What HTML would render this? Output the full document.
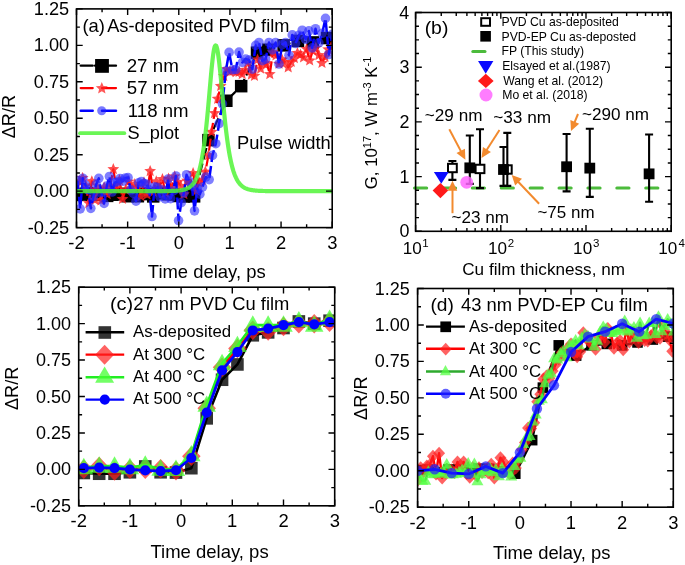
<!DOCTYPE html>
<html><head><meta charset="utf-8"><style>
html,body{margin:0;padding:0;background:#fff;overflow:hidden;}
svg{display:block;filter:blur(0.45px);}
</style></head><body>
<svg width="685" height="565" viewBox="0 0 685 565" font-family='"Liberation Sans", sans-serif'>
<rect width="685" height="565" fill="#fff"/>
<clipPath id="cA"><rect x="76.5" y="8.9" width="255.7" height="218.7"/></clipPath>
<clipPath id="cB"><rect x="415.6" y="12.5" width="255.6" height="218.8"/></clipPath>
<clipPath id="cC"><rect x="78.7" y="287.2" width="256" height="218.6"/></clipPath>
<clipPath id="cD"><rect x="417.6" y="288.5" width="255.7" height="218.7"/></clipPath>
<g clip-path="url(#cA)">
<path d="M76.5,194.96L81.61,194.59L86.73,193.31L91.84,194.92L96.96,194.77L102.07,194.49L107.18,195.9L112.3,194.75L117.41,194.34L122.53,193.77L127.64,196.22L132.75,195.48L137.87,196.23L142.98,193.71L148.1,194.12L153.21,196.4L158.32,193.11L163.44,193.17L168.55,194.26L173.67,194.39L178.78,195.99L183.89,196.49L189.01,194.7L194.12,196.34L208.44,140.12L226.34,100.75L241.17,86.17L257.02,52.64L268.27,49.72L283.62,45.35L297.94,40.98L312.77,42.43L327.09,38.06" stroke="#000" stroke-width="2.2" fill="none" stroke-linejoin="round" stroke-dasharray="12 4"/>
<rect x="70.25" y="188.71" width="12.5" height="12.5" fill="#000" />
<rect x="75.36" y="188.34" width="12.5" height="12.5" fill="#000" />
<rect x="80.48" y="187.06" width="12.5" height="12.5" fill="#000" />
<rect x="85.59" y="188.67" width="12.5" height="12.5" fill="#000" />
<rect x="90.71" y="188.52" width="12.5" height="12.5" fill="#000" />
<rect x="95.82" y="188.24" width="12.5" height="12.5" fill="#000" />
<rect x="100.93" y="189.65" width="12.5" height="12.5" fill="#000" />
<rect x="106.05" y="188.5" width="12.5" height="12.5" fill="#000" />
<rect x="111.16" y="188.09" width="12.5" height="12.5" fill="#000" />
<rect x="116.28" y="187.52" width="12.5" height="12.5" fill="#000" />
<rect x="121.39" y="189.97" width="12.5" height="12.5" fill="#000" />
<rect x="126.5" y="189.23" width="12.5" height="12.5" fill="#000" />
<rect x="131.62" y="189.98" width="12.5" height="12.5" fill="#000" />
<rect x="136.73" y="187.46" width="12.5" height="12.5" fill="#000" />
<rect x="141.85" y="187.87" width="12.5" height="12.5" fill="#000" />
<rect x="146.96" y="190.15" width="12.5" height="12.5" fill="#000" />
<rect x="152.07" y="186.86" width="12.5" height="12.5" fill="#000" />
<rect x="157.19" y="186.92" width="12.5" height="12.5" fill="#000" />
<rect x="162.3" y="188.01" width="12.5" height="12.5" fill="#000" />
<rect x="167.42" y="188.14" width="12.5" height="12.5" fill="#000" />
<rect x="172.53" y="189.74" width="12.5" height="12.5" fill="#000" />
<rect x="177.64" y="190.24" width="12.5" height="12.5" fill="#000" />
<rect x="182.76" y="188.45" width="12.5" height="12.5" fill="#000" />
<rect x="187.87" y="190.09" width="12.5" height="12.5" fill="#000" />
<rect x="202.19" y="133.87" width="12.5" height="12.5" fill="#000" />
<rect x="220.09" y="94.5" width="12.5" height="12.5" fill="#000" />
<rect x="234.92" y="79.92" width="12.5" height="12.5" fill="#000" />
<rect x="250.77" y="46.39" width="12.5" height="12.5" fill="#000" />
<rect x="262.02" y="43.47" width="12.5" height="12.5" fill="#000" />
<rect x="277.37" y="39.1" width="12.5" height="12.5" fill="#000" />
<rect x="291.69" y="34.73" width="12.5" height="12.5" fill="#000" />
<rect x="306.52" y="36.18" width="12.5" height="12.5" fill="#000" />
<rect x="320.84" y="31.81" width="12.5" height="12.5" fill="#000" />
<path d="M76.5,185.12L79.57,181.45L82.64,177.91L85.71,185.67L88.77,203.16L91.84,181.37L94.91,199.92L97.98,189L101.05,200.4L104.12,187.49L107.18,194.32L110.25,185.63L113.32,169.28L116.39,187.93L119.46,180.14L122.53,199.08L125.59,190.02L128.66,181.71L131.73,188.32L134.8,184.27L137.87,186.6L140.94,196.31L144,182.57L147.07,194.61L150.14,171.13L153.21,191.92L156.28,181.5L159.35,187.48L162.42,179.17L165.48,192.77L168.55,178.77L171.62,188.59L174.69,176.45L177.76,182.04L180.83,186.27L183.89,194.33L186.96,180.79L190.03,183.41L193.1,173.14L196.17,190.8L199.24,182.65L202.3,179.96L205.37,171.79L208.44,155.34L211.51,132.02L214.58,113.17L217.65,98.88L220.71,86.1L223.78,76.15L226.85,69.14L229.92,71.68L232.99,70.92L236.06,72.12L239.13,71.99L242.19,74.26L245.26,70.02L248.33,63.32L251.4,74.7L254.47,75.95L257.54,59.6L260.6,68.72L263.67,63.61L266.74,63.29L269.81,74.14L272.88,52.45L275.95,55.41L279.01,63.86L282.08,59.62L285.15,62.4L288.22,67.42L291.29,62.04L294.36,58.33L297.42,53.13L300.49,54.63L303.56,57.54L306.63,49.11L309.7,60.58L312.77,50.64L315.84,47.9L318.9,55.22L321.97,63.08L325.04,57.05L328.11,49.51L331.18,46.94" stroke="#ff0000" stroke-width="2.2" fill="none" stroke-linejoin="round" stroke-dasharray="12 4"/>
<path d="M76.5,178.92L78.14,182.86L82.4,183.2L79.15,185.98L80.14,190.13L76.5,187.91L72.86,190.13L73.85,185.98L70.6,183.2L74.86,182.86Z" fill="#ff2020" fill-opacity="0.8"/>
<path d="M79.57,175.25L81.21,179.19L85.46,179.53L82.22,182.31L83.21,186.46L79.57,184.24L75.92,186.46L76.91,182.31L73.67,179.53L77.93,179.19Z" fill="#ff2020" fill-opacity="0.8"/>
<path d="M82.64,171.71L84.28,175.65L88.53,175.99L85.29,178.77L86.28,182.93L82.64,180.7L78.99,182.93L79.98,178.77L76.74,175.99L81,175.65Z" fill="#ff2020" fill-opacity="0.8"/>
<path d="M85.71,179.47L87.35,183.41L91.6,183.75L88.36,186.53L89.35,190.69L85.71,188.46L82.06,190.69L83.05,186.53L79.81,183.75L84.07,183.41Z" fill="#ff2020" fill-opacity="0.8"/>
<path d="M88.77,196.96L90.41,200.9L94.67,201.25L91.43,204.02L92.42,208.18L88.77,205.95L85.13,208.18L86.12,204.02L82.88,201.25L87.13,200.9Z" fill="#ff2020" fill-opacity="0.8"/>
<path d="M91.84,175.17L93.48,179.11L97.74,179.45L94.5,182.23L95.49,186.38L91.84,184.16L88.2,186.38L89.19,182.23L85.95,179.45L90.2,179.11Z" fill="#ff2020" fill-opacity="0.8"/>
<path d="M94.91,193.72L96.55,197.67L100.81,198.01L97.56,200.79L98.55,204.94L94.91,202.71L91.27,204.94L92.26,200.79L89.01,198.01L93.27,197.67Z" fill="#ff2020" fill-opacity="0.8"/>
<path d="M97.98,182.8L99.62,186.75L103.88,187.09L100.63,189.87L101.62,194.02L97.98,191.79L94.33,194.02L95.33,189.87L92.08,187.09L96.34,186.75Z" fill="#ff2020" fill-opacity="0.8"/>
<path d="M101.05,194.2L102.69,198.14L106.94,198.48L103.7,201.26L104.69,205.41L101.05,203.19L97.4,205.41L98.39,201.26L95.15,198.48L99.41,198.14Z" fill="#ff2020" fill-opacity="0.8"/>
<path d="M104.12,181.29L105.76,185.23L110.01,185.57L106.77,188.35L107.76,192.5L104.12,190.28L100.47,192.5L101.46,188.35L98.22,185.57L102.48,185.23Z" fill="#ff2020" fill-opacity="0.8"/>
<path d="M107.18,188.12L108.82,192.06L113.08,192.4L109.84,195.18L110.83,199.33L107.18,197.11L103.54,199.33L104.53,195.18L101.29,192.4L105.54,192.06Z" fill="#ff2020" fill-opacity="0.8"/>
<path d="M110.25,179.43L111.89,183.38L116.15,183.72L112.91,186.5L113.9,190.65L110.25,188.42L106.61,190.65L107.6,186.5L104.36,183.72L108.61,183.38Z" fill="#ff2020" fill-opacity="0.8"/>
<path d="M113.32,163.08L114.96,167.02L119.22,167.36L115.97,170.14L116.97,174.3L113.32,172.07L109.68,174.3L110.67,170.14L107.42,167.36L111.68,167.02Z" fill="#ff2020" fill-opacity="0.8"/>
<path d="M116.39,181.73L118.03,185.67L122.29,186.01L119.04,188.79L120.03,192.95L116.39,190.72L112.74,192.95L113.74,188.79L110.49,186.01L114.75,185.67Z" fill="#ff2020" fill-opacity="0.8"/>
<path d="M119.46,173.94L121.1,177.88L125.35,178.22L122.11,181L123.1,185.15L119.46,182.93L115.81,185.15L116.8,181L113.56,178.22L117.82,177.88Z" fill="#ff2020" fill-opacity="0.8"/>
<path d="M122.53,192.88L124.17,196.82L128.42,197.17L125.18,199.94L126.17,204.1L122.53,201.87L118.88,204.1L119.87,199.94L116.63,197.17L120.89,196.82Z" fill="#ff2020" fill-opacity="0.8"/>
<path d="M125.59,183.82L127.23,187.77L131.49,188.11L128.25,190.89L129.24,195.04L125.59,192.81L121.95,195.04L122.94,190.89L119.7,188.11L123.95,187.77Z" fill="#ff2020" fill-opacity="0.8"/>
<path d="M128.66,175.51L130.3,179.45L134.56,179.79L131.32,182.57L132.31,186.73L128.66,184.5L125.02,186.73L126.01,182.57L122.77,179.79L127.02,179.45Z" fill="#ff2020" fill-opacity="0.8"/>
<path d="M131.73,182.12L133.37,186.06L137.63,186.4L134.38,189.18L135.38,193.33L131.73,191.11L128.09,193.33L129.08,189.18L125.83,186.4L130.09,186.06Z" fill="#ff2020" fill-opacity="0.8"/>
<path d="M134.8,178.07L136.44,182.01L140.7,182.35L137.45,185.13L138.44,189.28L134.8,187.06L131.16,189.28L132.15,185.13L128.9,182.35L133.16,182.01Z" fill="#ff2020" fill-opacity="0.8"/>
<path d="M137.87,180.4L139.51,184.34L143.76,184.69L140.52,187.46L141.51,191.62L137.87,189.39L134.22,191.62L135.21,187.46L131.97,184.69L136.23,184.34Z" fill="#ff2020" fill-opacity="0.8"/>
<path d="M140.94,190.11L142.58,194.05L146.83,194.39L143.59,197.17L144.58,201.32L140.94,199.1L137.29,201.32L138.28,197.17L135.04,194.39L139.3,194.05Z" fill="#ff2020" fill-opacity="0.8"/>
<path d="M144,176.37L145.64,180.32L149.9,180.66L146.66,183.44L147.65,187.59L144,185.36L140.36,187.59L141.35,183.44L138.11,180.66L142.36,180.32Z" fill="#ff2020" fill-opacity="0.8"/>
<path d="M147.07,188.41L148.71,192.35L152.97,192.69L149.73,195.47L150.72,199.62L147.07,197.4L143.43,199.62L144.42,195.47L141.18,192.69L145.43,192.35Z" fill="#ff2020" fill-opacity="0.8"/>
<path d="M150.14,164.93L151.78,168.87L156.04,169.22L152.8,171.99L153.79,176.15L150.14,173.92L146.5,176.15L147.49,171.99L144.25,169.22L148.5,168.87Z" fill="#ff2020" fill-opacity="0.8"/>
<path d="M153.21,185.72L154.85,189.67L159.11,190.01L155.86,192.79L156.85,196.94L153.21,194.71L149.57,196.94L150.56,192.79L147.31,190.01L151.57,189.67Z" fill="#ff2020" fill-opacity="0.8"/>
<path d="M156.28,175.3L157.92,179.25L162.17,179.59L158.93,182.37L159.92,186.52L156.28,184.29L152.63,186.52L153.62,182.37L150.38,179.59L154.64,179.25Z" fill="#ff2020" fill-opacity="0.8"/>
<path d="M159.35,181.28L160.99,185.23L165.24,185.57L162,188.35L162.99,192.5L159.35,190.27L155.7,192.5L156.69,188.35L153.45,185.57L157.71,185.23Z" fill="#ff2020" fill-opacity="0.8"/>
<path d="M162.42,172.97L164.06,176.92L168.31,177.26L165.07,180.04L166.06,184.19L162.42,181.96L158.77,184.19L159.76,180.04L156.52,177.26L160.78,176.92Z" fill="#ff2020" fill-opacity="0.8"/>
<path d="M165.48,186.57L167.12,190.52L171.38,190.86L168.14,193.63L169.13,197.79L165.48,195.56L161.84,197.79L162.83,193.63L159.59,190.86L163.84,190.52Z" fill="#ff2020" fill-opacity="0.8"/>
<path d="M168.55,172.57L170.19,176.51L174.45,176.85L171.21,179.63L172.2,183.78L168.55,181.56L164.91,183.78L165.9,179.63L162.66,176.85L166.91,176.51Z" fill="#ff2020" fill-opacity="0.8"/>
<path d="M171.62,182.39L173.26,186.33L177.52,186.67L174.27,189.45L175.26,193.6L171.62,191.38L167.98,193.6L168.97,189.45L165.72,186.67L169.98,186.33Z" fill="#ff2020" fill-opacity="0.8"/>
<path d="M174.69,170.25L176.33,174.2L180.59,174.54L177.34,177.32L178.33,181.47L174.69,179.24L171.04,181.47L172.04,177.32L168.79,174.54L173.05,174.2Z" fill="#ff2020" fill-opacity="0.8"/>
<path d="M177.76,175.84L179.4,179.79L183.65,180.13L180.41,182.91L181.4,187.06L177.76,184.83L174.11,187.06L175.1,182.91L171.86,180.13L176.12,179.79Z" fill="#ff2020" fill-opacity="0.8"/>
<path d="M180.83,180.07L182.47,184.01L186.72,184.35L183.48,187.13L184.47,191.28L180.83,189.06L177.18,191.28L178.17,187.13L174.93,184.35L179.19,184.01Z" fill="#ff2020" fill-opacity="0.8"/>
<path d="M183.89,188.13L185.53,192.07L189.79,192.42L186.55,195.19L187.54,199.35L183.89,197.12L180.25,199.35L181.24,195.19L178,192.42L182.25,192.07Z" fill="#ff2020" fill-opacity="0.8"/>
<path d="M186.96,174.59L188.6,178.53L192.86,178.87L189.62,181.65L190.61,185.8L186.96,183.58L183.32,185.8L184.31,181.65L181.07,178.87L185.32,178.53Z" fill="#ff2020" fill-opacity="0.8"/>
<path d="M190.03,177.21L191.67,181.15L195.93,181.49L192.68,184.27L193.68,188.43L190.03,186.2L186.39,188.43L187.38,184.27L184.13,181.49L188.39,181.15Z" fill="#ff2020" fill-opacity="0.8"/>
<path d="M193.1,166.94L194.74,170.88L199,171.23L195.75,174L196.74,178.16L193.1,175.93L189.45,178.16L190.45,174L187.2,171.23L191.46,170.88Z" fill="#ff2020" fill-opacity="0.8"/>
<path d="M196.17,184.6L197.81,188.55L202.06,188.89L198.82,191.67L199.81,195.82L196.17,193.59L192.52,195.82L193.51,191.67L190.27,188.89L194.53,188.55Z" fill="#ff2020" fill-opacity="0.8"/>
<path d="M199.24,176.45L200.88,180.39L205.13,180.74L201.89,183.51L202.88,187.67L199.24,185.44L195.59,187.67L196.58,183.51L193.34,180.74L197.6,180.39Z" fill="#ff2020" fill-opacity="0.8"/>
<path d="M202.3,173.76L203.94,177.7L208.2,178.05L204.96,180.82L205.95,184.98L202.3,182.75L198.66,184.98L199.65,180.82L196.41,178.05L200.66,177.7Z" fill="#ff2020" fill-opacity="0.8"/>
<path d="M205.37,165.59L207.01,169.54L211.27,169.88L208.03,172.65L209.02,176.81L205.37,174.58L201.73,176.81L202.72,172.65L199.48,169.88L203.73,169.54Z" fill="#ff2020" fill-opacity="0.8"/>
<path d="M208.44,149.14L210.08,153.08L214.34,153.42L211.09,156.2L212.09,160.35L208.44,158.13L204.8,160.35L205.79,156.2L202.54,153.42L206.8,153.08Z" fill="#ff2020" fill-opacity="0.8"/>
<path d="M211.51,125.82L213.15,129.77L217.41,130.11L214.16,132.89L215.15,137.04L211.51,134.81L207.87,137.04L208.86,132.89L205.61,130.11L209.87,129.77Z" fill="#ff2020" fill-opacity="0.8"/>
<path d="M214.58,106.97L216.22,110.91L220.47,111.25L217.23,114.03L218.22,118.18L214.58,115.96L210.93,118.18L211.92,114.03L208.68,111.25L212.94,110.91Z" fill="#ff2020" fill-opacity="0.8"/>
<path d="M217.65,92.68L219.29,96.62L223.54,96.97L220.3,99.74L221.29,103.9L217.65,101.67L214,103.9L214.99,99.74L211.75,96.97L216.01,96.62Z" fill="#ff2020" fill-opacity="0.8"/>
<path d="M220.71,79.9L222.35,83.84L226.61,84.18L223.37,86.96L224.36,91.11L220.71,88.89L217.07,91.11L218.06,86.96L214.82,84.18L219.07,83.84Z" fill="#ff2020" fill-opacity="0.8"/>
<path d="M223.78,69.95L225.42,73.89L229.68,74.23L226.44,77.01L227.43,81.16L223.78,78.94L220.14,81.16L221.13,77.01L217.89,74.23L222.14,73.89Z" fill="#ff2020" fill-opacity="0.8"/>
<path d="M226.85,62.94L228.49,66.88L232.75,67.22L229.51,70L230.5,74.16L226.85,71.93L223.21,74.16L224.2,70L220.96,67.22L225.21,66.88Z" fill="#ff2020" fill-opacity="0.8"/>
<path d="M229.92,65.48L231.56,69.42L235.82,69.76L232.57,72.54L233.56,76.69L229.92,74.47L226.28,76.69L227.27,72.54L224.02,69.76L228.28,69.42Z" fill="#ff2020" fill-opacity="0.8"/>
<path d="M232.99,64.72L234.63,68.66L238.88,69L235.64,71.78L236.63,75.93L232.99,73.71L229.34,75.93L230.33,71.78L227.09,69L231.35,68.66Z" fill="#ff2020" fill-opacity="0.8"/>
<path d="M236.06,65.92L237.7,69.86L241.95,70.2L238.71,72.98L239.7,77.13L236.06,74.91L232.41,77.13L233.4,72.98L230.16,70.2L234.42,69.86Z" fill="#ff2020" fill-opacity="0.8"/>
<path d="M239.13,65.79L240.77,69.73L245.02,70.07L241.78,72.85L242.77,77.01L239.13,74.78L235.48,77.01L236.47,72.85L233.23,70.07L237.49,69.73Z" fill="#ff2020" fill-opacity="0.8"/>
<path d="M242.19,68.06L243.83,72.01L248.09,72.35L244.85,75.13L245.84,79.28L242.19,77.05L238.55,79.28L239.54,75.13L236.3,72.35L240.55,72.01Z" fill="#ff2020" fill-opacity="0.8"/>
<path d="M245.26,63.82L246.9,67.76L251.16,68.1L247.92,70.88L248.91,75.04L245.26,72.81L241.62,75.04L242.61,70.88L239.37,68.1L243.62,67.76Z" fill="#ff2020" fill-opacity="0.8"/>
<path d="M248.33,57.12L249.97,61.06L254.23,61.4L250.98,64.18L251.97,68.33L248.33,66.11L244.69,68.33L245.68,64.18L242.43,61.4L246.69,61.06Z" fill="#ff2020" fill-opacity="0.8"/>
<path d="M251.4,68.5L253.04,72.44L257.3,72.78L254.05,75.56L255.04,79.71L251.4,77.49L247.75,79.71L248.75,75.56L245.5,72.78L249.76,72.44Z" fill="#ff2020" fill-opacity="0.8"/>
<path d="M254.47,69.75L256.11,73.7L260.36,74.04L257.12,76.82L258.11,80.97L254.47,78.74L250.82,80.97L251.81,76.82L248.57,74.04L252.83,73.7Z" fill="#ff2020" fill-opacity="0.8"/>
<path d="M257.54,53.4L259.18,57.34L263.43,57.68L260.19,60.46L261.18,64.61L257.54,62.39L253.89,64.61L254.88,60.46L251.64,57.68L255.9,57.34Z" fill="#ff2020" fill-opacity="0.8"/>
<path d="M260.6,62.52L262.24,66.46L266.5,66.8L263.26,69.58L264.25,73.74L260.6,71.51L256.96,73.74L257.95,69.58L254.71,66.8L258.96,66.46Z" fill="#ff2020" fill-opacity="0.8"/>
<path d="M263.67,57.41L265.31,61.35L269.57,61.69L266.33,64.47L267.32,68.62L263.67,66.4L260.03,68.62L261.02,64.47L257.78,61.69L262.03,61.35Z" fill="#ff2020" fill-opacity="0.8"/>
<path d="M266.74,57.09L268.38,61.04L272.64,61.38L269.39,64.16L270.39,68.31L266.74,66.08L263.1,68.31L264.09,64.16L260.84,61.38L265.1,61.04Z" fill="#ff2020" fill-opacity="0.8"/>
<path d="M269.81,67.94L271.45,71.88L275.71,72.22L272.46,75L273.45,79.15L269.81,76.93L266.16,79.15L267.16,75L263.91,72.22L268.17,71.88Z" fill="#ff2020" fill-opacity="0.8"/>
<path d="M272.88,46.25L274.52,50.19L278.77,50.53L275.53,53.31L276.52,57.46L272.88,55.24L269.23,57.46L270.22,53.31L266.98,50.53L271.24,50.19Z" fill="#ff2020" fill-opacity="0.8"/>
<path d="M275.95,49.21L277.59,53.15L281.84,53.49L278.6,56.27L279.59,60.42L275.95,58.2L272.3,60.42L273.29,56.27L270.05,53.49L274.31,53.15Z" fill="#ff2020" fill-opacity="0.8"/>
<path d="M279.01,57.66L280.65,61.6L284.91,61.94L281.67,64.72L282.66,68.87L279.01,66.65L275.37,68.87L276.36,64.72L273.12,61.94L277.37,61.6Z" fill="#ff2020" fill-opacity="0.8"/>
<path d="M282.08,53.42L283.72,57.37L287.98,57.71L284.74,60.49L285.73,64.64L282.08,62.41L278.44,64.64L279.43,60.49L276.19,57.71L280.44,57.37Z" fill="#ff2020" fill-opacity="0.8"/>
<path d="M285.15,56.2L286.79,60.14L291.05,60.48L287.8,63.26L288.8,67.41L285.15,65.19L281.51,67.41L282.5,63.26L279.25,60.48L283.51,60.14Z" fill="#ff2020" fill-opacity="0.8"/>
<path d="M288.22,61.22L289.86,65.16L294.12,65.5L290.87,68.28L291.86,72.44L288.22,70.21L284.58,72.44L285.57,68.28L282.32,65.5L286.58,65.16Z" fill="#ff2020" fill-opacity="0.8"/>
<path d="M291.29,55.84L292.93,59.78L297.18,60.13L293.94,62.9L294.93,67.06L291.29,64.83L287.64,67.06L288.63,62.9L285.39,60.13L289.65,59.78Z" fill="#ff2020" fill-opacity="0.8"/>
<path d="M294.36,52.13L296,56.07L300.25,56.42L297.01,59.19L298,63.35L294.36,61.12L290.71,63.35L291.7,59.19L288.46,56.42L292.72,56.07Z" fill="#ff2020" fill-opacity="0.8"/>
<path d="M297.42,46.93L299.06,50.87L303.32,51.22L300.08,53.99L301.07,58.15L297.42,55.92L293.78,58.15L294.77,53.99L291.53,51.22L295.78,50.87Z" fill="#ff2020" fill-opacity="0.8"/>
<path d="M300.49,48.43L302.13,52.37L306.39,52.71L303.15,55.49L304.14,59.64L300.49,57.42L296.85,59.64L297.84,55.49L294.6,52.71L298.85,52.37Z" fill="#ff2020" fill-opacity="0.8"/>
<path d="M303.56,51.34L305.2,55.28L309.46,55.63L306.22,58.4L307.21,62.56L303.56,60.33L299.92,62.56L300.91,58.4L297.67,55.63L301.92,55.28Z" fill="#ff2020" fill-opacity="0.8"/>
<path d="M306.63,42.91L308.27,46.86L312.53,47.2L309.28,49.97L310.27,54.13L306.63,51.9L302.99,54.13L303.98,49.97L300.73,47.2L304.99,46.86Z" fill="#ff2020" fill-opacity="0.8"/>
<path d="M309.7,54.38L311.34,58.32L315.59,58.66L312.35,61.44L313.34,65.59L309.7,63.37L306.05,65.59L307.04,61.44L303.8,58.66L308.06,58.32Z" fill="#ff2020" fill-opacity="0.8"/>
<path d="M312.77,44.44L314.41,48.38L318.66,48.72L315.42,51.5L316.41,55.66L312.77,53.43L309.12,55.66L310.11,51.5L306.87,48.72L311.13,48.38Z" fill="#ff2020" fill-opacity="0.8"/>
<path d="M315.84,41.7L317.48,45.65L321.73,45.99L318.49,48.77L319.48,52.92L315.84,50.69L312.19,52.92L313.18,48.77L309.94,45.99L314.2,45.65Z" fill="#ff2020" fill-opacity="0.8"/>
<path d="M318.9,49.02L320.54,52.96L324.8,53.3L321.56,56.08L322.55,60.23L318.9,58.01L315.26,60.23L316.25,56.08L313.01,53.3L317.26,52.96Z" fill="#ff2020" fill-opacity="0.8"/>
<path d="M321.97,56.88L323.61,60.83L327.87,61.17L324.63,63.95L325.62,68.1L321.97,65.87L318.33,68.1L319.32,63.95L316.08,61.17L320.33,60.83Z" fill="#ff2020" fill-opacity="0.8"/>
<path d="M325.04,50.85L326.68,54.79L330.94,55.13L327.69,57.91L328.68,62.07L325.04,59.84L321.4,62.07L322.39,57.91L319.14,55.13L323.4,54.79Z" fill="#ff2020" fill-opacity="0.8"/>
<path d="M328.11,43.31L329.75,47.25L334.01,47.59L330.76,50.37L331.75,54.52L328.11,52.3L324.46,54.52L325.46,50.37L322.21,47.59L326.47,47.25Z" fill="#ff2020" fill-opacity="0.8"/>
<path d="M331.18,40.74L332.82,44.68L337.07,45.02L333.83,47.8L334.82,51.95L331.18,49.73L327.53,51.95L328.52,47.8L325.28,45.02L329.54,44.68Z" fill="#ff2020" fill-opacity="0.8"/>
<path d="M77.52,180.62L80.18,208.85L82.84,178.19L85.5,185.07L88.16,189.81L90.82,208.36L93.48,196.53L96.14,184.51L98.8,178.3L101.46,192.8L104.12,203.43L106.77,186.11L109.43,176.49L112.09,191.99L114.75,182.71L117.41,181.73L120.07,178.49L122.73,181.28L125.39,177.98L128.05,177.54L130.71,189.92L133.37,193.38L136.03,201.19L138.69,182.8L141.35,181.51L144,183.52L146.66,183.99L149.32,190.11L151.98,216.52L154.64,186.87L157.3,187.22L159.96,196.77L162.62,189.96L165.28,198.96L167.94,179.1L170.6,198.62L173.26,190.96L175.92,175.99L178.58,220.54L181.23,202.63L183.89,193.12L186.55,174.7L189.21,181.36L191.87,185.98L194.53,210.87L197.19,188.59L199.85,194.2L202.51,187.05L205.83,177L209.16,179.58L212.48,155.41L215.81,143.72L219.13,123.55L222.45,103.91L225.78,71.15L229.1,52.39L232.43,69.81L235.75,69.49L239.07,52.1L242.4,62.39L245.72,58.99L249.05,60.13L252.37,69.21L255.69,45.42L259.02,42.43L262.34,60.73L265.67,59.12L268.99,42.43L272.32,49.93L275.64,42.43L278.96,64L282.29,44.6L285.61,42.43L288.94,55.26L292.26,34.9L295.58,43.57L298.91,35.21L302.23,30.25L305.56,39.4L308.88,30.92L312.2,47.86L315.53,28.69L318.85,42.82L322.18,33.31L325.5,18.41L328.82,54.5L332.15,34.35" stroke="#0000ff" stroke-width="2.5" fill="none" stroke-linejoin="round" stroke-dasharray="12 4"/>
<circle cx="77.52" cy="180.62" r="4.8" fill="#2a2aff" fill-opacity="0.6"/>
<circle cx="80.18" cy="208.85" r="4.8" fill="#2a2aff" fill-opacity="0.6"/>
<circle cx="82.84" cy="178.19" r="4.8" fill="#2a2aff" fill-opacity="0.6"/>
<circle cx="85.5" cy="185.07" r="4.8" fill="#2a2aff" fill-opacity="0.6"/>
<circle cx="88.16" cy="189.81" r="4.8" fill="#2a2aff" fill-opacity="0.6"/>
<circle cx="90.82" cy="208.36" r="4.8" fill="#2a2aff" fill-opacity="0.6"/>
<circle cx="93.48" cy="196.53" r="4.8" fill="#2a2aff" fill-opacity="0.6"/>
<circle cx="96.14" cy="184.51" r="4.8" fill="#2a2aff" fill-opacity="0.6"/>
<circle cx="98.8" cy="178.3" r="4.8" fill="#2a2aff" fill-opacity="0.6"/>
<circle cx="101.46" cy="192.8" r="4.8" fill="#2a2aff" fill-opacity="0.6"/>
<circle cx="104.12" cy="203.43" r="4.8" fill="#2a2aff" fill-opacity="0.6"/>
<circle cx="106.77" cy="186.11" r="4.8" fill="#2a2aff" fill-opacity="0.6"/>
<circle cx="109.43" cy="176.49" r="4.8" fill="#2a2aff" fill-opacity="0.6"/>
<circle cx="112.09" cy="191.99" r="4.8" fill="#2a2aff" fill-opacity="0.6"/>
<circle cx="114.75" cy="182.71" r="4.8" fill="#2a2aff" fill-opacity="0.6"/>
<circle cx="117.41" cy="181.73" r="4.8" fill="#2a2aff" fill-opacity="0.6"/>
<circle cx="120.07" cy="178.49" r="4.8" fill="#2a2aff" fill-opacity="0.6"/>
<circle cx="122.73" cy="181.28" r="4.8" fill="#2a2aff" fill-opacity="0.6"/>
<circle cx="125.39" cy="177.98" r="4.8" fill="#2a2aff" fill-opacity="0.6"/>
<circle cx="128.05" cy="177.54" r="4.8" fill="#2a2aff" fill-opacity="0.6"/>
<circle cx="130.71" cy="189.92" r="4.8" fill="#2a2aff" fill-opacity="0.6"/>
<circle cx="133.37" cy="193.38" r="4.8" fill="#2a2aff" fill-opacity="0.6"/>
<circle cx="136.03" cy="201.19" r="4.8" fill="#2a2aff" fill-opacity="0.6"/>
<circle cx="138.69" cy="182.8" r="4.8" fill="#2a2aff" fill-opacity="0.6"/>
<circle cx="141.35" cy="181.51" r="4.8" fill="#2a2aff" fill-opacity="0.6"/>
<circle cx="144" cy="183.52" r="4.8" fill="#2a2aff" fill-opacity="0.6"/>
<circle cx="146.66" cy="183.99" r="4.8" fill="#2a2aff" fill-opacity="0.6"/>
<circle cx="149.32" cy="190.11" r="4.8" fill="#2a2aff" fill-opacity="0.6"/>
<circle cx="151.98" cy="216.52" r="4.8" fill="#2a2aff" fill-opacity="0.6"/>
<circle cx="154.64" cy="186.87" r="4.8" fill="#2a2aff" fill-opacity="0.6"/>
<circle cx="157.3" cy="187.22" r="4.8" fill="#2a2aff" fill-opacity="0.6"/>
<circle cx="159.96" cy="196.77" r="4.8" fill="#2a2aff" fill-opacity="0.6"/>
<circle cx="162.62" cy="189.96" r="4.8" fill="#2a2aff" fill-opacity="0.6"/>
<circle cx="165.28" cy="198.96" r="4.8" fill="#2a2aff" fill-opacity="0.6"/>
<circle cx="167.94" cy="179.1" r="4.8" fill="#2a2aff" fill-opacity="0.6"/>
<circle cx="170.6" cy="198.62" r="4.8" fill="#2a2aff" fill-opacity="0.6"/>
<circle cx="173.26" cy="190.96" r="4.8" fill="#2a2aff" fill-opacity="0.6"/>
<circle cx="175.92" cy="175.99" r="4.8" fill="#2a2aff" fill-opacity="0.6"/>
<circle cx="178.58" cy="220.54" r="4.8" fill="#2a2aff" fill-opacity="0.6"/>
<circle cx="181.23" cy="202.63" r="4.8" fill="#2a2aff" fill-opacity="0.6"/>
<circle cx="183.89" cy="193.12" r="4.8" fill="#2a2aff" fill-opacity="0.6"/>
<circle cx="186.55" cy="174.7" r="4.8" fill="#2a2aff" fill-opacity="0.6"/>
<circle cx="189.21" cy="181.36" r="4.8" fill="#2a2aff" fill-opacity="0.6"/>
<circle cx="191.87" cy="185.98" r="4.8" fill="#2a2aff" fill-opacity="0.6"/>
<circle cx="194.53" cy="210.87" r="4.8" fill="#2a2aff" fill-opacity="0.6"/>
<circle cx="197.19" cy="188.59" r="4.8" fill="#2a2aff" fill-opacity="0.6"/>
<circle cx="199.85" cy="194.2" r="4.8" fill="#2a2aff" fill-opacity="0.6"/>
<circle cx="202.51" cy="187.05" r="4.8" fill="#2a2aff" fill-opacity="0.6"/>
<circle cx="205.83" cy="177" r="4.8" fill="#2a2aff" fill-opacity="0.6"/>
<circle cx="209.16" cy="179.58" r="4.8" fill="#2a2aff" fill-opacity="0.6"/>
<circle cx="212.48" cy="155.41" r="4.8" fill="#2a2aff" fill-opacity="0.6"/>
<circle cx="215.81" cy="143.72" r="4.8" fill="#2a2aff" fill-opacity="0.6"/>
<circle cx="219.13" cy="123.55" r="4.8" fill="#2a2aff" fill-opacity="0.6"/>
<circle cx="222.45" cy="103.91" r="4.8" fill="#2a2aff" fill-opacity="0.6"/>
<circle cx="225.78" cy="71.15" r="4.8" fill="#2a2aff" fill-opacity="0.6"/>
<circle cx="229.1" cy="52.39" r="4.8" fill="#2a2aff" fill-opacity="0.6"/>
<circle cx="232.43" cy="69.81" r="4.8" fill="#2a2aff" fill-opacity="0.6"/>
<circle cx="235.75" cy="69.49" r="4.8" fill="#2a2aff" fill-opacity="0.6"/>
<circle cx="239.07" cy="52.1" r="4.8" fill="#2a2aff" fill-opacity="0.6"/>
<circle cx="242.4" cy="62.39" r="4.8" fill="#2a2aff" fill-opacity="0.6"/>
<circle cx="245.72" cy="58.99" r="4.8" fill="#2a2aff" fill-opacity="0.6"/>
<circle cx="249.05" cy="60.13" r="4.8" fill="#2a2aff" fill-opacity="0.6"/>
<circle cx="252.37" cy="69.21" r="4.8" fill="#2a2aff" fill-opacity="0.6"/>
<circle cx="255.69" cy="45.42" r="4.8" fill="#2a2aff" fill-opacity="0.6"/>
<circle cx="259.02" cy="42.43" r="4.8" fill="#2a2aff" fill-opacity="0.6"/>
<circle cx="262.34" cy="60.73" r="4.8" fill="#2a2aff" fill-opacity="0.6"/>
<circle cx="265.67" cy="59.12" r="4.8" fill="#2a2aff" fill-opacity="0.6"/>
<circle cx="268.99" cy="42.43" r="4.8" fill="#2a2aff" fill-opacity="0.6"/>
<circle cx="272.32" cy="49.93" r="4.8" fill="#2a2aff" fill-opacity="0.6"/>
<circle cx="275.64" cy="42.43" r="4.8" fill="#2a2aff" fill-opacity="0.6"/>
<circle cx="278.96" cy="64" r="4.8" fill="#2a2aff" fill-opacity="0.6"/>
<circle cx="282.29" cy="44.6" r="4.8" fill="#2a2aff" fill-opacity="0.6"/>
<circle cx="285.61" cy="42.43" r="4.8" fill="#2a2aff" fill-opacity="0.6"/>
<circle cx="288.94" cy="55.26" r="4.8" fill="#2a2aff" fill-opacity="0.6"/>
<circle cx="292.26" cy="34.9" r="4.8" fill="#2a2aff" fill-opacity="0.6"/>
<circle cx="295.58" cy="43.57" r="4.8" fill="#2a2aff" fill-opacity="0.6"/>
<circle cx="298.91" cy="35.21" r="4.8" fill="#2a2aff" fill-opacity="0.6"/>
<circle cx="302.23" cy="30.25" r="4.8" fill="#2a2aff" fill-opacity="0.6"/>
<circle cx="305.56" cy="39.4" r="4.8" fill="#2a2aff" fill-opacity="0.6"/>
<circle cx="308.88" cy="30.92" r="4.8" fill="#2a2aff" fill-opacity="0.6"/>
<circle cx="312.2" cy="47.86" r="4.8" fill="#2a2aff" fill-opacity="0.6"/>
<circle cx="315.53" cy="28.69" r="4.8" fill="#2a2aff" fill-opacity="0.6"/>
<circle cx="318.85" cy="42.82" r="4.8" fill="#2a2aff" fill-opacity="0.6"/>
<circle cx="322.18" cy="33.31" r="4.8" fill="#2a2aff" fill-opacity="0.6"/>
<circle cx="325.5" cy="18.41" r="4.8" fill="#2a2aff" fill-opacity="0.6"/>
<circle cx="328.82" cy="54.5" r="4.8" fill="#2a2aff" fill-opacity="0.6"/>
<circle cx="332.15" cy="34.35" r="4.8" fill="#2a2aff" fill-opacity="0.6"/>
<path d="M76.5,191.15L77.01,191.15L77.52,191.15L78.03,191.15L78.55,191.15L79.06,191.15L79.57,191.15L80.08,191.15L80.59,191.15L81.1,191.15L81.61,191.15L82.13,191.15L82.64,191.15L83.15,191.15L83.66,191.15L84.17,191.15L84.68,191.15L85.19,191.15L85.71,191.15L86.22,191.15L86.73,191.15L87.24,191.15L87.75,191.15L88.26,191.15L88.77,191.15L89.29,191.15L89.8,191.15L90.31,191.15L90.82,191.15L91.33,191.15L91.84,191.15L92.35,191.15L92.86,191.15L93.38,191.15L93.89,191.15L94.4,191.15L94.91,191.15L95.42,191.15L95.93,191.15L96.44,191.15L96.96,191.15L97.47,191.15L97.98,191.15L98.49,191.15L99,191.15L99.51,191.15L100.02,191.15L100.54,191.15L101.05,191.15L101.56,191.15L102.07,191.15L102.58,191.15L103.09,191.15L103.6,191.15L104.12,191.15L104.63,191.15L105.14,191.15L105.65,191.15L106.16,191.15L106.67,191.15L107.18,191.15L107.7,191.15L108.21,191.15L108.72,191.15L109.23,191.15L109.74,191.15L110.25,191.15L110.76,191.15L111.28,191.15L111.79,191.15L112.3,191.15L112.81,191.15L113.32,191.15L113.83,191.15L114.34,191.15L114.86,191.15L115.37,191.15L115.88,191.15L116.39,191.15L116.9,191.15L117.41,191.15L117.92,191.15L118.43,191.15L118.95,191.15L119.46,191.15L119.97,191.15L120.48,191.15L120.99,191.15L121.5,191.15L122.01,191.15L122.53,191.15L123.04,191.15L123.55,191.15L124.06,191.15L124.57,191.15L125.08,191.15L125.59,191.15L126.11,191.15L126.62,191.15L127.13,191.15L127.64,191.15L128.15,191.15L128.66,191.15L129.17,191.15L129.69,191.15L130.2,191.15L130.71,191.15L131.22,191.15L131.73,191.15L132.24,191.15L132.75,191.15L133.27,191.15L133.78,191.15L134.29,191.15L134.8,191.15L135.31,191.15L135.82,191.15L136.33,191.15L136.85,191.15L137.36,191.15L137.87,191.15L138.38,191.15L138.89,191.15L139.4,191.15L139.91,191.15L140.43,191.15L140.94,191.15L141.45,191.15L141.96,191.15L142.47,191.15L142.98,191.15L143.49,191.15L144,191.15L144.52,191.15L145.03,191.15L145.54,191.15L146.05,191.15L146.56,191.15L147.07,191.15L147.58,191.15L148.1,191.15L148.61,191.15L149.12,191.15L149.63,191.15L150.14,191.15L150.65,191.15L151.16,191.14L151.68,191.14L152.19,191.14L152.7,191.14L153.21,191.14L153.72,191.14L154.23,191.14L154.74,191.14L155.26,191.14L155.77,191.14L156.28,191.14L156.79,191.14L157.3,191.13L157.81,191.13L158.32,191.13L158.84,191.13L159.35,191.13L159.86,191.13L160.37,191.12L160.88,191.12L161.39,191.12L161.9,191.12L162.42,191.11L162.93,191.11L163.44,191.11L163.95,191.1L164.46,191.1L164.97,191.09L165.48,191.09L166,191.08L166.51,191.08L167.02,191.07L167.53,191.06L168.04,191.05L168.55,191.04L169.06,191.04L169.57,191.02L170.09,191.01L170.6,191L171.11,190.99L171.62,190.97L172.13,190.95L172.64,190.94L173.15,190.92L173.67,190.9L174.18,190.87L174.69,190.85L175.2,190.82L175.71,190.79L176.22,190.75L176.73,190.72L177.25,190.68L177.76,190.63L178.27,190.59L178.78,190.53L179.29,190.48L179.8,190.41L180.31,190.35L180.83,190.27L181.34,190.19L181.85,190.1L182.36,190.01L182.87,189.9L183.38,189.78L183.89,189.66L184.41,189.52L184.92,189.37L185.43,189.21L185.94,189.03L186.45,188.83L186.96,188.61L187.47,188.38L187.99,188.12L188.5,187.85L189.01,187.54L189.52,187.21L190.03,186.84L190.54,186.45L191.05,186.01L191.57,185.54L192.08,185.02L192.59,184.46L193.1,183.84L193.61,183.17L194.12,182.44L194.63,181.64L195.14,180.77L195.66,179.81L196.17,178.78L196.68,177.65L197.19,176.42L197.7,175.08L198.21,173.62L198.72,172.04L199.24,170.31L199.75,168.44L200.26,166.41L200.77,164.2L201.28,161.82L201.79,159.24L202.3,156.45L202.82,153.44L203.33,150.21L203.84,146.73L204.35,143.01L204.86,139.03L205.37,134.79L205.88,130.29L206.4,125.54L206.91,120.54L207.42,115.3L207.93,109.86L208.44,104.24L208.95,98.49L209.46,92.65L209.98,86.79L210.49,80.97L211,75.28L211.51,69.82L212.02,64.67L212.53,59.94L213.04,55.72L213.56,52.12L214.07,49.22L214.58,47.09L215.09,45.79L215.6,45.35L216.11,45.73L216.62,46.86L217.14,48.71L217.65,51.24L218.16,54.39L218.67,58.11L219.18,62.3L219.69,66.9L220.2,71.83L220.71,76.99L221.23,82.32L221.74,87.75L222.25,93.21L222.76,98.64L223.27,103.99L223.78,109.23L224.29,114.32L224.81,119.23L225.32,123.95L225.83,128.46L226.34,132.74L226.85,136.81L227.36,140.65L227.87,144.26L228.39,147.66L228.9,150.84L229.41,153.82L229.92,156.6L230.43,159.19L230.94,161.6L231.45,163.84L231.97,165.92L232.48,167.85L232.99,169.64L233.5,171.3L234.01,172.83L234.52,174.25L235.03,175.57L235.55,176.78L236.06,177.9L236.57,178.93L237.08,179.89L237.59,180.77L238.1,181.58L238.61,182.34L239.13,183.03L239.64,183.67L240.15,184.25L240.66,184.8L241.17,185.3L241.68,185.76L242.19,186.18L242.71,186.57L243.22,186.93L243.73,187.27L244.24,187.57L244.75,187.85L245.26,188.11L245.77,188.35L246.28,188.57L246.8,188.78L247.31,188.97L247.82,189.14L248.33,189.3L248.84,189.44L249.35,189.58L249.86,189.7L250.38,189.82L250.89,189.92L251.4,190.02L251.91,190.11L252.42,190.19L252.93,190.27L253.44,190.34L253.96,190.4L254.47,190.46L254.98,190.51L255.49,190.56L256,190.61L256.51,190.65L257.02,190.69L257.54,190.73L258.05,190.76L258.56,190.79L259.07,190.82L259.58,190.85L260.09,190.87L260.6,190.89L261.12,190.91L261.63,190.93L262.14,190.95L262.65,190.96L263.16,190.98L263.67,190.99L264.18,191.01L264.7,191.02L265.21,191.03L265.72,191.04L266.23,191.05L266.74,191.05L267.25,191.06L267.76,191.07L268.28,191.08L268.79,191.08L269.3,191.09L269.81,191.09L270.32,191.1L270.83,191.1L271.34,191.1L271.85,191.11L272.37,191.11L272.88,191.11L273.39,191.12L273.9,191.12L274.41,191.12L274.92,191.12L275.43,191.13L275.95,191.13L276.46,191.13L276.97,191.13L277.48,191.13L277.99,191.13L278.5,191.14L279.01,191.14L279.53,191.14L280.04,191.14L280.55,191.14L281.06,191.14L281.57,191.14L282.08,191.14L282.59,191.14L283.11,191.14L283.62,191.14L284.13,191.14L284.64,191.14L285.15,191.15L285.66,191.15L286.17,191.15L286.69,191.15L287.2,191.15L287.71,191.15L288.22,191.15L288.73,191.15L289.24,191.15L289.75,191.15L290.27,191.15L290.78,191.15L291.29,191.15L291.8,191.15L292.31,191.15L292.82,191.15L293.33,191.15L293.84,191.15L294.36,191.15L294.87,191.15L295.38,191.15L295.89,191.15L296.4,191.15L296.91,191.15L297.42,191.15L297.94,191.15L298.45,191.15L298.96,191.15L299.47,191.15L299.98,191.15L300.49,191.15L301,191.15L301.52,191.15L302.03,191.15L302.54,191.15L303.05,191.15L303.56,191.15L304.07,191.15L304.58,191.15L305.1,191.15L305.61,191.15L306.12,191.15L306.63,191.15L307.14,191.15L307.65,191.15L308.16,191.15L308.68,191.15L309.19,191.15L309.7,191.15L310.21,191.15L310.72,191.15L311.23,191.15L311.74,191.15L312.26,191.15L312.77,191.15L313.28,191.15L313.79,191.15L314.3,191.15L314.81,191.15L315.32,191.15L315.84,191.15L316.35,191.15L316.86,191.15L317.37,191.15L317.88,191.15L318.39,191.15L318.9,191.15L319.41,191.15L319.93,191.15L320.44,191.15L320.95,191.15L321.46,191.15L321.97,191.15L322.48,191.15L322.99,191.15L323.51,191.15L324.02,191.15L324.53,191.15L325.04,191.15L325.55,191.15L326.06,191.15L326.57,191.15L327.09,191.15L327.6,191.15L328.11,191.15L328.62,191.15L329.13,191.15L329.64,191.15L330.15,191.15L330.67,191.15L331.18,191.15L331.69,191.15L332.2,191.15" stroke="rgb(80,245,55)" stroke-width="4.2" fill="none" stroke-linejoin="round" stroke-opacity="0.85"/>
</g>
<path d="M76.5,227.6v-6.2M76.5,8.9v6.2M127.64,227.6v-6.2M127.64,8.9v6.2M178.78,227.6v-6.2M178.78,8.9v6.2M229.92,227.6v-6.2M229.92,8.9v6.2M281.06,227.6v-6.2M281.06,8.9v6.2M332.2,227.6v-6.2M332.2,8.9v6.2M102.07,227.6v-3.4M102.07,8.9v3.4M153.21,227.6v-3.4M153.21,8.9v3.4M204.35,227.6v-3.4M204.35,8.9v3.4M255.49,227.6v-3.4M255.49,8.9v3.4M306.63,227.6v-3.4M306.63,8.9v3.4M76.5,227.6h6.2M332.2,227.6h-6.2M76.5,191.15h6.2M332.2,191.15h-6.2M76.5,154.7h6.2M332.2,154.7h-6.2M76.5,118.25h6.2M332.2,118.25h-6.2M76.5,81.8h6.2M332.2,81.8h-6.2M76.5,45.35h6.2M332.2,45.35h-6.2M76.5,8.9h6.2M332.2,8.9h-6.2M76.5,209.38h3.4M332.2,209.38h-3.4M76.5,172.93h3.4M332.2,172.93h-3.4M76.5,136.47h3.4M332.2,136.47h-3.4M76.5,100.02h3.4M332.2,100.02h-3.4M76.5,63.58h3.4M332.2,63.58h-3.4M76.5,27.12h3.4M332.2,27.12h-3.4" stroke="#000" stroke-width="1.4" fill="none"/>
<rect x="76.5" y="8.9" width="255.7" height="218.7" fill="none" stroke="#000" stroke-width="1.6"/>
<text transform="translate(27.73,233.6) scale(1.0000,1)" font-size="18.2" text-anchor="start" fill="#000" >-0.25</text>
<text transform="translate(33.83,197.15) scale(1.0000,1)" font-size="18.2" text-anchor="start" fill="#000" >0.00</text>
<text transform="translate(33.83,160.7) scale(1.0000,1)" font-size="18.2" text-anchor="start" fill="#000" >0.25</text>
<text transform="translate(33.83,124.25) scale(1.0000,1)" font-size="18.2" text-anchor="start" fill="#000" >0.50</text>
<text transform="translate(33.83,87.8) scale(1.0000,1)" font-size="18.2" text-anchor="start" fill="#000" >0.75</text>
<text transform="translate(33.83,51.35) scale(1.0000,1)" font-size="18.2" text-anchor="start" fill="#000" >1.00</text>
<text transform="translate(33.83,14.9) scale(1.0000,1)" font-size="18.2" text-anchor="start" fill="#000" >1.25</text>
<text transform="translate(68.36,249.3) scale(1.0000,1)" font-size="18.4" text-anchor="start" fill="#000" >-2</text>
<text transform="translate(119.5,249.3) scale(1.0000,1)" font-size="18.4" text-anchor="start" fill="#000" >-1</text>
<text transform="translate(173.67,249.3) scale(1.0000,1)" font-size="18.4" text-anchor="start" fill="#000" >0</text>
<text transform="translate(224.58,249.3) scale(1.0000,1)" font-size="18.4" text-anchor="start" fill="#000" >1</text>
<text transform="translate(275.95,249.3) scale(1.0000,1)" font-size="18.4" text-anchor="start" fill="#000" >2</text>
<text transform="translate(327.14,249.3) scale(1.0000,1)" font-size="18.4" text-anchor="start" fill="#000" >3</text>
<text transform="translate(147.83,278) scale(1.0029,1)" font-size="18.4" text-anchor="start" fill="#000" >Time delay, ps</text>
<text transform="translate(15.3,116.6) rotate(-90)" font-size="18.2" text-anchor="middle">ΔR/R</text>
<text transform="translate(82.5,31.6) scale(1.0000,1)" font-size="18.4" text-anchor="start" fill="#000" >(a)</text>
<text transform="translate(107.21,31.6) scale(0.9960,1)" font-size="18.3" text-anchor="start" fill="#000" >As-deposited PVD film</text>
<text transform="translate(236.93,148.8) scale(1.0027,1)" font-size="18.3" text-anchor="start" fill="#000" >Pulse width</text>
<path d="M80.7,65.7h12M95,65.7h21" stroke="#000" stroke-width="2.3" stroke-linecap="round"/>
<rect x="95.1" y="59" width="13.8" height="13.8" fill="#000" />
<path d="M80.7,88.1h12M102,88.1h14" stroke="#ff0000" stroke-width="2.3" stroke-linecap="round"/>
<path d="M101.8,82L103.47,86.01L107.79,86.35L104.5,89.18L105.5,93.4L101.8,91.13L98.1,93.4L99.1,89.18L95.81,86.35L100.13,86.01Z" fill="#ff2020" fill-opacity="0.75"/>
<path d="M80.7,110.8h12M102,110.8h14" stroke="#0000ff" stroke-width="2.5" stroke-linecap="round"/>
<circle cx="101.7" cy="110.8" r="4.5" fill="#2020ff" fill-opacity="0.6"/>
<path d="M80,133.2h44.3" stroke="rgb(80,245,55)" stroke-opacity="0.85" stroke-width="3.8" stroke-linecap="round"/>
<text transform="translate(126.66,71.8) scale(1.0140,1)" font-size="18.5" text-anchor="start" fill="#000" >27 nm</text>
<text transform="translate(126.85,94.3) scale(1.0102,1)" font-size="18.5" text-anchor="start" fill="#000" >57 nm</text>
<text transform="translate(127.8,116.9) scale(1.0083,1)" font-size="18.5" text-anchor="start" fill="#000" >118 nm</text>
<text transform="translate(127.38,139.3) scale(0.9968,1)" font-size="18.3" text-anchor="start" fill="#000" >S_plot</text>
<path d="M414.5,188.09H660" stroke="#4cbb3c" stroke-width="3" stroke-dasharray="12.2 16.7" stroke-linecap="round"/>
<path d="M452.4,161.01V179.88M448.4,161.01h8M448.4,179.88h8" stroke="#000" stroke-width="2.1" fill="none"/>
<path d="M480,129.28V188.09M476,129.28h8M476,188.09h8" stroke="#000" stroke-width="2.1" fill="none"/>
<path d="M507.3,132.84V185.9M503.3,132.84h8M503.3,185.9h8" stroke="#000" stroke-width="2.1" fill="none"/>
<rect x="448" y="163.81" width="8.8" height="8.4" fill="#fff" stroke="#000" stroke-width="2"/>
<rect x="475.6" y="164.74" width="8.8" height="8.4" fill="#fff" stroke="#000" stroke-width="2"/>
<rect x="502.9" y="165.29" width="8.8" height="8.4" fill="#fff" stroke="#000" stroke-width="2"/>
<path d="M469.8,135.57V183.88M465.8,135.57h8M465.8,183.88h8" stroke="#000" stroke-width="2.1" fill="none"/>
<path d="M503.5,147.06V185.9M499.5,147.06h8M499.5,185.9h8" stroke="#000" stroke-width="2.1" fill="none"/>
<path d="M566.6,133.93V191.37M562.6,133.93h8M562.6,191.37h8" stroke="#000" stroke-width="2.1" fill="none"/>
<path d="M589.8,128.74V196.84M585.8,128.74h8M585.8,196.84h8" stroke="#000" stroke-width="2.1" fill="none"/>
<path d="M649.1,134.48V201.76M645.1,134.48h8M645.1,201.76h8" stroke="#000" stroke-width="2.1" fill="none"/>
<rect x="464.4" y="162.45" width="10.8" height="10.8" fill="#000" />
<rect x="498.1" y="164.09" width="10.8" height="10.8" fill="#000" />
<rect x="561.2" y="161.35" width="10.8" height="10.8" fill="#000" />
<rect x="584.4" y="162.72" width="10.8" height="10.8" fill="#000" />
<rect x="643.7" y="168.47" width="10.8" height="10.8" fill="#000" />
<path d="M441.3,183.68L448.7,171.88L433.9,171.88Z" fill="#0a0aff" />
<path d="M440.4,183L448.2,190.6L440.4,198.2L432.6,190.6Z" fill="#ff1a1a" />
<circle cx="466.7" cy="182.3" r="6.4" fill="#ff66ff" fill-opacity="0.85"/>
<path d="M449.3,129.3L461.66,152.63" stroke="#f28a2e" stroke-width="2" fill="none"/>
<path d="M465.4,159.7L456.52,153.09L464.92,148.64Z" fill="#f28a2e"/>
<path d="M499.5,130L485.84,151.18" stroke="#f28a2e" stroke-width="2" fill="none"/>
<path d="M481.5,157.9L482.93,146.92L490.91,152.07Z" fill="#f28a2e"/>
<path d="M578,114L574.03,123.7" stroke="#f28a2e" stroke-width="2" fill="none"/>
<path d="M571,131.1L570.39,120.05L579.18,123.64Z" fill="#f28a2e"/>
<path d="M539.1,203.7L517.21,180.7" stroke="#f28a2e" stroke-width="2" fill="none"/>
<path d="M511.7,174.9L522.03,178.87L515.15,185.42Z" fill="#f28a2e"/>
<path d="M452.5,213.2L452.5,188.8" stroke="#f28a2e" stroke-width="2" fill="none"/>
<path d="M452.5,180.8L457.25,190.8L447.75,190.8Z" fill="#f28a2e"/>
<text transform="translate(424.83,120.9) scale(1.0022,1)" font-size="17.1" text-anchor="start" fill="#000" >~29 nm</text>
<text transform="translate(493.22,122.8) scale(1.0076,1)" font-size="17.1" text-anchor="start" fill="#000" >~33 nm</text>
<text transform="translate(582.03,119.7) scale(1.0005,1)" font-size="17.1" text-anchor="start" fill="#000" >~290 nm</text>
<text transform="translate(537.44,218.3) scale(0.9933,1)" font-size="17.1" text-anchor="start" fill="#000" >~75 nm</text>
<text transform="translate(451.43,222.9) scale(1.0022,1)" font-size="17.1" text-anchor="start" fill="#000" >~23 nm</text>
<path d="M415.6,231.3v-6.2M415.6,12.5v6.2M500.8,231.3v-6.2M500.8,12.5v6.2M586,231.3v-6.2M586,12.5v6.2M671.2,231.3v-6.2M671.2,12.5v6.2M441.25,231.3v-3.4M441.25,12.5v3.4M456.25,231.3v-3.4M456.25,12.5v3.4M466.9,231.3v-3.4M466.9,12.5v3.4M475.15,231.3v-3.4M475.15,12.5v3.4M481.9,231.3v-3.4M481.9,12.5v3.4M487.6,231.3v-3.4M487.6,12.5v3.4M492.54,231.3v-3.4M492.54,12.5v3.4M496.9,231.3v-3.4M496.9,12.5v3.4M526.45,231.3v-3.4M526.45,12.5v3.4M541.45,231.3v-3.4M541.45,12.5v3.4M552.1,231.3v-3.4M552.1,12.5v3.4M560.35,231.3v-3.4M560.35,12.5v3.4M567.1,231.3v-3.4M567.1,12.5v3.4M572.8,231.3v-3.4M572.8,12.5v3.4M577.74,231.3v-3.4M577.74,12.5v3.4M582.1,231.3v-3.4M582.1,12.5v3.4M611.65,231.3v-3.4M611.65,12.5v3.4M626.65,231.3v-3.4M626.65,12.5v3.4M637.3,231.3v-3.4M637.3,12.5v3.4M645.55,231.3v-3.4M645.55,12.5v3.4M652.3,231.3v-3.4M652.3,12.5v3.4M658,231.3v-3.4M658,12.5v3.4M662.94,231.3v-3.4M662.94,12.5v3.4M667.3,231.3v-3.4M667.3,12.5v3.4M415.6,231.3h6.2M671.2,231.3h-6.2M415.6,176.6h6.2M671.2,176.6h-6.2M415.6,121.9h6.2M671.2,121.9h-6.2M415.6,67.2h6.2M671.2,67.2h-6.2M415.6,12.5h6.2M671.2,12.5h-6.2M415.6,217.62h3.4M671.2,217.62h-3.4M415.6,203.95h3.4M671.2,203.95h-3.4M415.6,190.28h3.4M671.2,190.28h-3.4M415.6,162.93h3.4M671.2,162.93h-3.4M415.6,149.25h3.4M671.2,149.25h-3.4M415.6,135.57h3.4M671.2,135.57h-3.4M415.6,108.23h3.4M671.2,108.23h-3.4M415.6,94.55h3.4M671.2,94.55h-3.4M415.6,80.88h3.4M671.2,80.88h-3.4M415.6,53.53h3.4M671.2,53.53h-3.4M415.6,39.85h3.4M671.2,39.85h-3.4M415.6,26.18h3.4M671.2,26.18h-3.4" stroke="#000" stroke-width="1.4" fill="none"/>
<rect x="415.6" y="12.5" width="255.6" height="218.8" fill="none" stroke="#000" stroke-width="1.6"/>
<text transform="translate(399.38,237.3) scale(1.0000,1)" font-size="17.9" text-anchor="start" fill="#000" >0</text>
<text transform="translate(399.56,182.6) scale(1.0000,1)" font-size="17.9" text-anchor="start" fill="#000" >1</text>
<text transform="translate(399.56,127.9) scale(1.0000,1)" font-size="17.9" text-anchor="start" fill="#000" >2</text>
<text transform="translate(399.47,73.2) scale(1.0000,1)" font-size="17.9" text-anchor="start" fill="#000" >3</text>
<text transform="translate(399.2,18.5) scale(1.0000,1)" font-size="17.9" text-anchor="start" fill="#000" >4</text>
<text transform="translate(402.72,253.9) scale(1.0000,1)" font-size="17.1" text-anchor="start" fill="#000" >10</text>
<text transform="translate(422.24,247.2) scale(1.0000,1)" font-size="11.5" text-anchor="start" fill="#000" >1</text>
<text transform="translate(487.92,253.9) scale(1.0000,1)" font-size="17.1" text-anchor="start" fill="#000" >10</text>
<text transform="translate(507.73,247.2) scale(1.0000,1)" font-size="11.5" text-anchor="start" fill="#000" >2</text>
<text transform="translate(573.12,253.9) scale(1.0000,1)" font-size="17.1" text-anchor="start" fill="#000" >10</text>
<text transform="translate(593.04,247.2) scale(1.0000,1)" font-size="11.5" text-anchor="start" fill="#000" >3</text>
<text transform="translate(658.32,253.9) scale(1.0000,1)" font-size="17.1" text-anchor="start" fill="#000" >10</text>
<text transform="translate(678.41,247.2) scale(1.0000,1)" font-size="11.5" text-anchor="start" fill="#000" >4</text>
<text transform="translate(462.24,275.3) scale(1.0013,1)" font-size="17.1" text-anchor="start" fill="#000" >Cu film thickness, nm</text>
<text transform="translate(377.4,189.2) rotate(-90)" font-size="16.8">G, 10<tspan font-size="11" dy="-6.5">17</tspan><tspan dy="6.5">, W m</tspan><tspan font-size="11" dy="-6.5">-3</tspan><tspan dy="6.5"> K</tspan><tspan font-size="11" dy="-6.5">-1</tspan></text>
<text transform="translate(424.63,34) scale(1.0516,1)" font-size="18.5" text-anchor="start" fill="#000" >(b)</text>
<text transform="translate(501.52,25.7) scale(1.0006,1)" font-size="12.2" text-anchor="start" fill="#000" >PVD Cu as-deposited</text>
<text transform="translate(501.52,40.6) scale(1.0006,1)" font-size="12.2" text-anchor="start" fill="#000" >PVD-EP Cu as-deposted</text>
<text transform="translate(501.52,55.3) scale(1.0006,1)" font-size="12.2" text-anchor="start" fill="#000" >FP (This study)</text>
<text transform="translate(502.22,69.9) scale(1.0006,1)" font-size="12.2" text-anchor="start" fill="#000" >Elsayed et al.(1987)</text>
<text transform="translate(503.14,85.1) scale(1.0006,1)" font-size="12.2" text-anchor="start" fill="#000" >Wang et al. (2012)</text>
<text transform="translate(502.22,99) scale(1.0006,1)" font-size="12.2" text-anchor="start" fill="#000" >Mo et al. (2018)</text>
<rect x="481.2" y="18.2" width="8.8" height="7.6" fill="#fff" stroke="#000" stroke-width="2"/>
<rect x="480.3" y="31" width="10.6" height="10.6" fill="#000" />
<path d="M472.8,51.4h12.2" stroke="#4cbb3c" stroke-width="3" stroke-linecap="round"/>
<path d="M485.7,73.82L493.35,61.12L478.05,61.12Z" fill="#0a0aff" />
<path d="M485.8,73.75L493.65,80.9L485.8,88.05L477.95,80.9Z" fill="#ff1a1a" />
<circle cx="486" cy="95" r="6.5" fill="#ff66ff" fill-opacity="0.85"/>
<g clip-path="url(#cC)">
<path d="M83.82,473.01L99.18,473.74L114.54,473.74L129.9,472.28L145.26,466.45L160.62,472.28L175.98,472.57L191.34,468.2L206.7,418.36L222.06,379.74L237.42,364.44L252.78,335.29L268.14,332.38L283.5,328.01L298.86,321.45L314.22,323.63L329.58,320.72" stroke="#000" stroke-width="2.6" fill="none" stroke-linejoin="round" />
<rect x="77.52" y="466.71" width="12.6" height="12.6" fill="#000" fill-opacity="0.8"/>
<rect x="92.88" y="467.44" width="12.6" height="12.6" fill="#000" fill-opacity="0.8"/>
<rect x="108.24" y="467.44" width="12.6" height="12.6" fill="#000" fill-opacity="0.8"/>
<rect x="123.6" y="465.98" width="12.6" height="12.6" fill="#000" fill-opacity="0.8"/>
<rect x="138.96" y="460.15" width="12.6" height="12.6" fill="#000" fill-opacity="0.8"/>
<rect x="154.32" y="465.98" width="12.6" height="12.6" fill="#000" fill-opacity="0.8"/>
<rect x="169.68" y="466.27" width="12.6" height="12.6" fill="#000" fill-opacity="0.8"/>
<rect x="185.04" y="461.9" width="12.6" height="12.6" fill="#000" fill-opacity="0.8"/>
<rect x="200.4" y="412.06" width="12.6" height="12.6" fill="#000" fill-opacity="0.8"/>
<rect x="215.76" y="373.44" width="12.6" height="12.6" fill="#000" fill-opacity="0.8"/>
<rect x="231.12" y="358.14" width="12.6" height="12.6" fill="#000" fill-opacity="0.8"/>
<rect x="246.48" y="328.99" width="12.6" height="12.6" fill="#000" fill-opacity="0.8"/>
<rect x="261.84" y="326.08" width="12.6" height="12.6" fill="#000" fill-opacity="0.8"/>
<rect x="277.2" y="321.71" width="12.6" height="12.6" fill="#000" fill-opacity="0.8"/>
<rect x="292.56" y="315.15" width="12.6" height="12.6" fill="#000" fill-opacity="0.8"/>
<rect x="307.92" y="317.33" width="12.6" height="12.6" fill="#000" fill-opacity="0.8"/>
<rect x="323.28" y="314.42" width="12.6" height="12.6" fill="#000" fill-opacity="0.8"/>
<path d="M83.82,469.37L99.18,466.45L114.54,471.12L129.9,469.37L145.26,469.37L160.62,468.64L175.98,470.82L191.34,456.25L206.7,408.16L222.06,367.35L237.42,348.41L252.78,330.19L268.14,330.92L283.5,326.55L298.86,323.63L314.22,323.63L329.58,322.18" stroke="#ff0000" stroke-width="2.6" fill="none" stroke-linejoin="round" />
<path d="M83.82,459.62L93.07,469.37L83.82,479.12L74.57,469.37Z" fill="#ff2020" fill-opacity="0.7"/>
<path d="M99.18,456.7L108.43,466.45L99.18,476.2L89.93,466.45Z" fill="#ff2020" fill-opacity="0.7"/>
<path d="M114.54,461.37L123.79,471.12L114.54,480.87L105.29,471.12Z" fill="#ff2020" fill-opacity="0.7"/>
<path d="M129.9,459.62L139.15,469.37L129.9,479.12L120.65,469.37Z" fill="#ff2020" fill-opacity="0.7"/>
<path d="M145.26,459.62L154.51,469.37L145.26,479.12L136.01,469.37Z" fill="#ff2020" fill-opacity="0.7"/>
<path d="M160.62,458.89L169.87,468.64L160.62,478.39L151.37,468.64Z" fill="#ff2020" fill-opacity="0.7"/>
<path d="M175.98,461.07L185.23,470.82L175.98,480.57L166.73,470.82Z" fill="#ff2020" fill-opacity="0.7"/>
<path d="M191.34,446.5L200.59,456.25L191.34,466L182.09,456.25Z" fill="#ff2020" fill-opacity="0.7"/>
<path d="M206.7,398.41L215.95,408.16L206.7,417.91L197.45,408.16Z" fill="#ff2020" fill-opacity="0.7"/>
<path d="M222.06,357.6L231.31,367.35L222.06,377.1L212.81,367.35Z" fill="#ff2020" fill-opacity="0.7"/>
<path d="M237.42,338.66L246.67,348.41L237.42,358.16L228.17,348.41Z" fill="#ff2020" fill-opacity="0.7"/>
<path d="M252.78,320.44L262.03,330.19L252.78,339.94L243.53,330.19Z" fill="#ff2020" fill-opacity="0.7"/>
<path d="M268.14,321.17L277.39,330.92L268.14,340.67L258.89,330.92Z" fill="#ff2020" fill-opacity="0.7"/>
<path d="M283.5,316.8L292.75,326.55L283.5,336.3L274.25,326.55Z" fill="#ff2020" fill-opacity="0.7"/>
<path d="M298.86,313.88L308.11,323.63L298.86,333.38L289.61,323.63Z" fill="#ff2020" fill-opacity="0.7"/>
<path d="M314.22,313.88L323.47,323.63L314.22,333.38L304.97,323.63Z" fill="#ff2020" fill-opacity="0.7"/>
<path d="M329.58,312.43L338.83,322.18L329.58,331.93L320.33,322.18Z" fill="#ff2020" fill-opacity="0.7"/>
<path d="M83.82,467.62L99.18,466.16L114.54,466.16L129.9,467.62L145.26,464.99L160.62,469.08L175.98,469.37L191.34,454.79L206.7,405.24L222.06,363.71L237.42,345.49L252.78,325.09L268.14,325.09L283.5,325.09L298.86,320.72L314.22,325.09L329.58,319.26" stroke="#22ee22" stroke-width="2.6" fill="none" stroke-linejoin="round" />
<path d="M83.82,457.78L93.07,474.18L74.57,474.18Z" fill="#44ff33" fill-opacity="0.75"/>
<path d="M99.18,456.32L108.43,472.72L89.93,472.72Z" fill="#44ff33" fill-opacity="0.75"/>
<path d="M114.54,456.32L123.79,472.72L105.29,472.72Z" fill="#44ff33" fill-opacity="0.75"/>
<path d="M129.9,457.78L139.15,474.18L120.65,474.18Z" fill="#44ff33" fill-opacity="0.75"/>
<path d="M145.26,455.15L154.51,471.55L136.01,471.55Z" fill="#44ff33" fill-opacity="0.75"/>
<path d="M160.62,459.24L169.87,475.64L151.37,475.64Z" fill="#44ff33" fill-opacity="0.75"/>
<path d="M175.98,459.53L185.23,475.93L166.73,475.93Z" fill="#44ff33" fill-opacity="0.75"/>
<path d="M191.34,444.95L200.59,461.35L182.09,461.35Z" fill="#44ff33" fill-opacity="0.75"/>
<path d="M206.7,395.4L215.95,411.8L197.45,411.8Z" fill="#44ff33" fill-opacity="0.75"/>
<path d="M222.06,353.87L231.31,370.27L212.81,370.27Z" fill="#44ff33" fill-opacity="0.75"/>
<path d="M237.42,335.65L246.67,352.05L228.17,352.05Z" fill="#44ff33" fill-opacity="0.75"/>
<path d="M252.78,315.25L262.03,331.65L243.53,331.65Z" fill="#44ff33" fill-opacity="0.75"/>
<path d="M268.14,315.25L277.39,331.65L258.89,331.65Z" fill="#44ff33" fill-opacity="0.75"/>
<path d="M283.5,315.25L292.75,331.65L274.25,331.65Z" fill="#44ff33" fill-opacity="0.75"/>
<path d="M298.86,310.88L308.11,327.28L289.61,327.28Z" fill="#44ff33" fill-opacity="0.75"/>
<path d="M314.22,315.25L323.47,331.65L304.97,331.65Z" fill="#44ff33" fill-opacity="0.75"/>
<path d="M329.58,309.42L338.83,325.82L320.33,325.82Z" fill="#44ff33" fill-opacity="0.75"/>
<path d="M83.82,468.2L99.18,467.62L114.54,468.2L129.9,469.51L145.26,470.39L160.62,471.12L175.98,470.24L191.34,458L206.7,412.53L222.06,370.27L237.42,352.05L252.78,330.48L268.14,328.59L283.5,325.09L298.86,322.18L314.22,324.36L329.58,322.18" stroke="#0000ff" stroke-width="2.8" fill="none" stroke-linejoin="round" />
<circle cx="83.82" cy="468.2" r="5.1" fill="#0000ff" />
<circle cx="99.18" cy="467.62" r="5.1" fill="#0000ff" />
<circle cx="114.54" cy="468.2" r="5.1" fill="#0000ff" />
<circle cx="129.9" cy="469.51" r="5.1" fill="#0000ff" />
<circle cx="145.26" cy="470.39" r="5.1" fill="#0000ff" />
<circle cx="160.62" cy="471.12" r="5.1" fill="#0000ff" />
<circle cx="175.98" cy="470.24" r="5.1" fill="#0000ff" />
<circle cx="191.34" cy="458" r="5.1" fill="#0000ff" />
<circle cx="206.7" cy="412.53" r="5.1" fill="#0000ff" />
<circle cx="222.06" cy="370.27" r="5.1" fill="#0000ff" />
<circle cx="237.42" cy="352.05" r="5.1" fill="#0000ff" />
<circle cx="252.78" cy="330.48" r="5.1" fill="#0000ff" />
<circle cx="268.14" cy="328.59" r="5.1" fill="#0000ff" />
<circle cx="283.5" cy="325.09" r="5.1" fill="#0000ff" />
<circle cx="298.86" cy="322.18" r="5.1" fill="#0000ff" />
<circle cx="314.22" cy="324.36" r="5.1" fill="#0000ff" />
<circle cx="329.58" cy="322.18" r="5.1" fill="#0000ff" />
</g>
<path d="M78.7,505.8v-6.2M78.7,287.2v6.2M129.9,505.8v-6.2M129.9,287.2v6.2M181.1,505.8v-6.2M181.1,287.2v6.2M232.3,505.8v-6.2M232.3,287.2v6.2M283.5,505.8v-6.2M283.5,287.2v6.2M334.7,505.8v-6.2M334.7,287.2v6.2M104.3,505.8v-3.4M104.3,287.2v3.4M155.5,505.8v-3.4M155.5,287.2v3.4M206.7,505.8v-3.4M206.7,287.2v3.4M257.9,505.8v-3.4M257.9,287.2v3.4M309.1,505.8v-3.4M309.1,287.2v3.4M78.7,505.8h6.2M334.7,505.8h-6.2M78.7,469.37h6.2M334.7,469.37h-6.2M78.7,432.93h6.2M334.7,432.93h-6.2M78.7,396.5h6.2M334.7,396.5h-6.2M78.7,360.07h6.2M334.7,360.07h-6.2M78.7,323.63h6.2M334.7,323.63h-6.2M78.7,287.2h6.2M334.7,287.2h-6.2M78.7,487.58h3.4M334.7,487.58h-3.4M78.7,451.15h3.4M334.7,451.15h-3.4M78.7,414.72h3.4M334.7,414.72h-3.4M78.7,378.28h3.4M334.7,378.28h-3.4M78.7,341.85h3.4M334.7,341.85h-3.4M78.7,305.42h3.4M334.7,305.42h-3.4" stroke="#000" stroke-width="1.4" fill="none"/>
<rect x="78.7" y="287.2" width="256" height="218.6" fill="none" stroke="#000" stroke-width="1.6"/>
<text transform="translate(29.98,511.8) scale(1.0000,1)" font-size="18.0" text-anchor="start" fill="#000" >-0.25</text>
<text transform="translate(36.01,475.37) scale(1.0000,1)" font-size="18.0" text-anchor="start" fill="#000" >0.00</text>
<text transform="translate(36.01,438.93) scale(1.0000,1)" font-size="18.0" text-anchor="start" fill="#000" >0.25</text>
<text transform="translate(36.01,402.5) scale(1.0000,1)" font-size="18.0" text-anchor="start" fill="#000" >0.50</text>
<text transform="translate(36.01,366.07) scale(1.0000,1)" font-size="18.0" text-anchor="start" fill="#000" >0.75</text>
<text transform="translate(36.01,329.63) scale(1.0000,1)" font-size="18.0" text-anchor="start" fill="#000" >1.00</text>
<text transform="translate(36.01,293.2) scale(1.0000,1)" font-size="18.0" text-anchor="start" fill="#000" >1.25</text>
<text transform="translate(70.56,527.2) scale(1.0000,1)" font-size="18.4" text-anchor="start" fill="#000" >-2</text>
<text transform="translate(121.76,527.2) scale(1.0000,1)" font-size="18.4" text-anchor="start" fill="#000" >-1</text>
<text transform="translate(175.99,527.2) scale(1.0000,1)" font-size="18.4" text-anchor="start" fill="#000" >0</text>
<text transform="translate(226.96,527.2) scale(1.0000,1)" font-size="18.4" text-anchor="start" fill="#000" >1</text>
<text transform="translate(278.39,527.2) scale(1.0000,1)" font-size="18.4" text-anchor="start" fill="#000" >2</text>
<text transform="translate(329.64,527.2) scale(1.0000,1)" font-size="18.4" text-anchor="start" fill="#000" >3</text>
<text transform="translate(150.43,558.2) scale(1.0063,1)" font-size="18.4" text-anchor="start" fill="#000" >Time delay, ps</text>
<text transform="translate(17.5,388.3) rotate(-90)" font-size="18.2" text-anchor="middle">ΔR/R</text>
<text transform="translate(109.9,309.9) scale(1.0870,1)" font-size="18.4" text-anchor="start" fill="#000" >(c)</text>
<text transform="translate(133.28,309.9) scale(0.9988,1)" font-size="18.4" text-anchor="start" fill="#000" >27 nm PVD Cu film</text>
<path d="M85.6,332.3H124.2" stroke="#000" stroke-width="2.4"/>
<rect x="98.5" y="326.2" width="12.6" height="12.6" fill="#000" fill-opacity="0.8"/>
<path d="M85.6,354.6H124.2" stroke="#ff0000" stroke-width="2.4"/>
<path d="M104.6,344.8L114.1,354.8L104.6,364.8L95.1,354.8Z" fill="#ff2020" fill-opacity="0.7"/>
<path d="M85.6,377.2H124.2" stroke="#22ee22" stroke-width="2.4"/>
<path d="M104.6,366.46L114.1,382.86L95.1,382.86Z" fill="#44ff33" fill-opacity="0.75"/>
<path d="M85.6,399.6H124.2" stroke="#0000ff" stroke-width="2.4"/>
<circle cx="104.8" cy="399.6" r="5.1" fill="#0000ff" />
<text transform="translate(133.02,337.3) scale(1.0065,1)" font-size="16.7" text-anchor="start" fill="#000" >As-deposited</text>
<text transform="translate(133.02,359.5) scale(1.0065,1)" font-size="16.7" text-anchor="start" fill="#000" >At 300 °C</text>
<text transform="translate(133.02,381.8) scale(1.0065,1)" font-size="16.7" text-anchor="start" fill="#000" >At 400 °C</text>
<text transform="translate(133.02,404.3) scale(1.0065,1)" font-size="16.7" text-anchor="start" fill="#000" >At 500 °C</text>
<g clip-path="url(#cD)">
<path d="M417.6,470.09L427.83,469.57L438.06,472.35L448.28,469.48L458.51,469.32L468.74,470.38L478.97,468.7L489.2,468.82L499.42,471.37L509.65,471.31L515.28,473.67L532.15,440.13L542.89,387.64L558.75,345.36L576.13,355.57L591.48,345.36L606.82,343.9L622.16,345.36L637.5,342.45L652.84,339.53L668.19,336.61" stroke="#000" stroke-width="2.4" fill="none" stroke-linejoin="round" />
<rect x="412.3" y="464.79" width="10.6" height="10.6" fill="#000" />
<rect x="422.53" y="464.27" width="10.6" height="10.6" fill="#000" />
<rect x="432.76" y="467.05" width="10.6" height="10.6" fill="#000" />
<rect x="442.98" y="464.18" width="10.6" height="10.6" fill="#000" />
<rect x="453.21" y="464.02" width="10.6" height="10.6" fill="#000" />
<rect x="463.44" y="465.08" width="10.6" height="10.6" fill="#000" />
<rect x="473.67" y="463.4" width="10.6" height="10.6" fill="#000" />
<rect x="483.9" y="463.52" width="10.6" height="10.6" fill="#000" />
<rect x="494.12" y="466.07" width="10.6" height="10.6" fill="#000" />
<rect x="504.35" y="466.01" width="10.6" height="10.6" fill="#000" />
<rect x="509.98" y="468.37" width="10.6" height="10.6" fill="#000" />
<rect x="526.85" y="434.83" width="10.6" height="10.6" fill="#000" />
<rect x="537.59" y="382.34" width="10.6" height="10.6" fill="#000" />
<rect x="553.45" y="340.06" width="10.6" height="10.6" fill="#000" />
<rect x="570.83" y="350.27" width="10.6" height="10.6" fill="#000" />
<rect x="586.18" y="340.06" width="10.6" height="10.6" fill="#000" />
<rect x="601.52" y="338.6" width="10.6" height="10.6" fill="#000" />
<rect x="616.86" y="340.06" width="10.6" height="10.6" fill="#000" />
<rect x="632.2" y="337.15" width="10.6" height="10.6" fill="#000" />
<rect x="647.54" y="334.23" width="10.6" height="10.6" fill="#000" />
<rect x="662.89" y="331.31" width="10.6" height="10.6" fill="#000" />
<path d="M417.6,480.23L420.67,467.82L423.74,471.38L426.81,465.93L429.87,464.82L432.94,456.17L436.01,473.98L439.08,453.25L442.15,478.04L445.22,472.54L448.28,470.5L451.35,470.05L454.42,472.43L457.49,461.89L460.56,469.98L463.63,461.93L466.69,473.48L469.76,477.13L472.83,467.83L475.9,474.9L478.97,467.86L482.04,472.44L485.1,469.77L488.17,472.64L491.24,464.17L494.31,478.04L497.38,468.66L500.45,457.63L503.52,462L506.58,469.82L509.65,473.68L512.72,462.92L515.79,468.11L518.86,459.42L521.93,449.43L524.99,442.49L528.06,427.89L531.13,428.48L534.2,422.74L537.27,401.74L540.34,394.28L543.4,379.07L546.47,376.1L549.54,378.15L552.61,371.08L555.68,364.43L558.75,358.83L561.81,352.58L564.88,355.5L567.95,347.96L571.02,344.02L574.09,353.01L577.16,356.76L580.23,351.81L583.29,332.73L586.36,337.61L589.43,341.99L592.5,344.6L595.57,349.31L598.64,336.76L601.7,334.33L604.77,342.22L607.84,328.49L610.91,333.01L613.98,348.21L617.05,343.05L620.11,340.41L623.18,349.72L626.25,329.06L629.32,342.03L632.39,332.53L635.46,333.86L638.52,342.54L641.59,334.28L644.66,340.48L647.73,341.11L650.8,336.1L653.87,333.35L656.94,337.93L660,338.29L663.07,326.09L666.14,333.09L669.21,339.53L672.28,351.19L675.35,337.08" stroke="#ff0000" stroke-width="2.4" fill="none" stroke-linejoin="round" />
<path d="M417.6,473.73L423.6,480.23L417.6,486.73L411.6,480.23Z" fill="#ff2020" fill-opacity="0.7"/>
<path d="M420.67,461.32L426.67,467.82L420.67,474.32L414.67,467.82Z" fill="#ff2020" fill-opacity="0.7"/>
<path d="M423.74,464.88L429.74,471.38L423.74,477.88L417.74,471.38Z" fill="#ff2020" fill-opacity="0.7"/>
<path d="M426.81,459.43L432.81,465.93L426.81,472.43L420.81,465.93Z" fill="#ff2020" fill-opacity="0.7"/>
<path d="M429.87,458.32L435.87,464.82L429.87,471.32L423.87,464.82Z" fill="#ff2020" fill-opacity="0.7"/>
<path d="M432.94,449.67L438.94,456.17L432.94,462.67L426.94,456.17Z" fill="#ff2020" fill-opacity="0.7"/>
<path d="M436.01,467.48L442.01,473.98L436.01,480.48L430.01,473.98Z" fill="#ff2020" fill-opacity="0.7"/>
<path d="M439.08,446.75L445.08,453.25L439.08,459.75L433.08,453.25Z" fill="#ff2020" fill-opacity="0.7"/>
<path d="M442.15,471.54L448.15,478.04L442.15,484.54L436.15,478.04Z" fill="#ff2020" fill-opacity="0.7"/>
<path d="M445.22,466.04L451.22,472.54L445.22,479.04L439.22,472.54Z" fill="#ff2020" fill-opacity="0.7"/>
<path d="M448.28,464L454.28,470.5L448.28,477L442.28,470.5Z" fill="#ff2020" fill-opacity="0.7"/>
<path d="M451.35,463.55L457.35,470.05L451.35,476.55L445.35,470.05Z" fill="#ff2020" fill-opacity="0.7"/>
<path d="M454.42,465.93L460.42,472.43L454.42,478.93L448.42,472.43Z" fill="#ff2020" fill-opacity="0.7"/>
<path d="M457.49,455.39L463.49,461.89L457.49,468.39L451.49,461.89Z" fill="#ff2020" fill-opacity="0.7"/>
<path d="M460.56,463.48L466.56,469.98L460.56,476.48L454.56,469.98Z" fill="#ff2020" fill-opacity="0.7"/>
<path d="M463.63,455.43L469.63,461.93L463.63,468.43L457.63,461.93Z" fill="#ff2020" fill-opacity="0.7"/>
<path d="M466.69,466.98L472.69,473.48L466.69,479.98L460.69,473.48Z" fill="#ff2020" fill-opacity="0.7"/>
<path d="M469.76,470.63L475.76,477.13L469.76,483.63L463.76,477.13Z" fill="#ff2020" fill-opacity="0.7"/>
<path d="M472.83,461.33L478.83,467.83L472.83,474.33L466.83,467.83Z" fill="#ff2020" fill-opacity="0.7"/>
<path d="M475.9,468.4L481.9,474.9L475.9,481.4L469.9,474.9Z" fill="#ff2020" fill-opacity="0.7"/>
<path d="M478.97,461.36L484.97,467.86L478.97,474.36L472.97,467.86Z" fill="#ff2020" fill-opacity="0.7"/>
<path d="M482.04,465.94L488.04,472.44L482.04,478.94L476.04,472.44Z" fill="#ff2020" fill-opacity="0.7"/>
<path d="M485.1,463.27L491.1,469.77L485.1,476.27L479.1,469.77Z" fill="#ff2020" fill-opacity="0.7"/>
<path d="M488.17,466.14L494.17,472.64L488.17,479.14L482.17,472.64Z" fill="#ff2020" fill-opacity="0.7"/>
<path d="M491.24,457.67L497.24,464.17L491.24,470.67L485.24,464.17Z" fill="#ff2020" fill-opacity="0.7"/>
<path d="M494.31,471.54L500.31,478.04L494.31,484.54L488.31,478.04Z" fill="#ff2020" fill-opacity="0.7"/>
<path d="M497.38,462.16L503.38,468.66L497.38,475.16L491.38,468.66Z" fill="#ff2020" fill-opacity="0.7"/>
<path d="M500.45,451.13L506.45,457.63L500.45,464.13L494.45,457.63Z" fill="#ff2020" fill-opacity="0.7"/>
<path d="M503.52,455.5L509.52,462L503.52,468.5L497.52,462Z" fill="#ff2020" fill-opacity="0.7"/>
<path d="M506.58,463.32L512.58,469.82L506.58,476.32L500.58,469.82Z" fill="#ff2020" fill-opacity="0.7"/>
<path d="M509.65,467.18L515.65,473.68L509.65,480.18L503.65,473.68Z" fill="#ff2020" fill-opacity="0.7"/>
<path d="M512.72,456.42L518.72,462.92L512.72,469.42L506.72,462.92Z" fill="#ff2020" fill-opacity="0.7"/>
<path d="M515.79,461.61L521.79,468.11L515.79,474.61L509.79,468.11Z" fill="#ff2020" fill-opacity="0.7"/>
<path d="M518.86,452.92L524.86,459.42L518.86,465.92L512.86,459.42Z" fill="#ff2020" fill-opacity="0.7"/>
<path d="M521.93,442.93L527.93,449.43L521.93,455.93L515.93,449.43Z" fill="#ff2020" fill-opacity="0.7"/>
<path d="M524.99,435.99L530.99,442.49L524.99,448.99L518.99,442.49Z" fill="#ff2020" fill-opacity="0.7"/>
<path d="M528.06,421.39L534.06,427.89L528.06,434.39L522.06,427.89Z" fill="#ff2020" fill-opacity="0.7"/>
<path d="M531.13,421.98L537.13,428.48L531.13,434.98L525.13,428.48Z" fill="#ff2020" fill-opacity="0.7"/>
<path d="M534.2,416.24L540.2,422.74L534.2,429.24L528.2,422.74Z" fill="#ff2020" fill-opacity="0.7"/>
<path d="M537.27,395.24L543.27,401.74L537.27,408.24L531.27,401.74Z" fill="#ff2020" fill-opacity="0.7"/>
<path d="M540.34,387.78L546.34,394.28L540.34,400.78L534.34,394.28Z" fill="#ff2020" fill-opacity="0.7"/>
<path d="M543.4,372.57L549.4,379.07L543.4,385.57L537.4,379.07Z" fill="#ff2020" fill-opacity="0.7"/>
<path d="M546.47,369.6L552.47,376.1L546.47,382.6L540.47,376.1Z" fill="#ff2020" fill-opacity="0.7"/>
<path d="M549.54,371.65L555.54,378.15L549.54,384.65L543.54,378.15Z" fill="#ff2020" fill-opacity="0.7"/>
<path d="M552.61,364.58L558.61,371.08L552.61,377.58L546.61,371.08Z" fill="#ff2020" fill-opacity="0.7"/>
<path d="M555.68,357.93L561.68,364.43L555.68,370.93L549.68,364.43Z" fill="#ff2020" fill-opacity="0.7"/>
<path d="M558.75,352.33L564.75,358.83L558.75,365.33L552.75,358.83Z" fill="#ff2020" fill-opacity="0.7"/>
<path d="M561.81,346.08L567.81,352.58L561.81,359.08L555.81,352.58Z" fill="#ff2020" fill-opacity="0.7"/>
<path d="M564.88,349L570.88,355.5L564.88,362L558.88,355.5Z" fill="#ff2020" fill-opacity="0.7"/>
<path d="M567.95,341.46L573.95,347.96L567.95,354.46L561.95,347.96Z" fill="#ff2020" fill-opacity="0.7"/>
<path d="M571.02,337.52L577.02,344.02L571.02,350.52L565.02,344.02Z" fill="#ff2020" fill-opacity="0.7"/>
<path d="M574.09,346.51L580.09,353.01L574.09,359.51L568.09,353.01Z" fill="#ff2020" fill-opacity="0.7"/>
<path d="M577.16,350.26L583.16,356.76L577.16,363.26L571.16,356.76Z" fill="#ff2020" fill-opacity="0.7"/>
<path d="M580.23,345.31L586.23,351.81L580.23,358.31L574.23,351.81Z" fill="#ff2020" fill-opacity="0.7"/>
<path d="M583.29,326.23L589.29,332.73L583.29,339.23L577.29,332.73Z" fill="#ff2020" fill-opacity="0.7"/>
<path d="M586.36,331.11L592.36,337.61L586.36,344.11L580.36,337.61Z" fill="#ff2020" fill-opacity="0.7"/>
<path d="M589.43,335.49L595.43,341.99L589.43,348.49L583.43,341.99Z" fill="#ff2020" fill-opacity="0.7"/>
<path d="M592.5,338.1L598.5,344.6L592.5,351.1L586.5,344.6Z" fill="#ff2020" fill-opacity="0.7"/>
<path d="M595.57,342.81L601.57,349.31L595.57,355.81L589.57,349.31Z" fill="#ff2020" fill-opacity="0.7"/>
<path d="M598.64,330.26L604.64,336.76L598.64,343.26L592.64,336.76Z" fill="#ff2020" fill-opacity="0.7"/>
<path d="M601.7,327.83L607.7,334.33L601.7,340.83L595.7,334.33Z" fill="#ff2020" fill-opacity="0.7"/>
<path d="M604.77,335.72L610.77,342.22L604.77,348.72L598.77,342.22Z" fill="#ff2020" fill-opacity="0.7"/>
<path d="M607.84,321.99L613.84,328.49L607.84,334.99L601.84,328.49Z" fill="#ff2020" fill-opacity="0.7"/>
<path d="M610.91,326.51L616.91,333.01L610.91,339.51L604.91,333.01Z" fill="#ff2020" fill-opacity="0.7"/>
<path d="M613.98,341.71L619.98,348.21L613.98,354.71L607.98,348.21Z" fill="#ff2020" fill-opacity="0.7"/>
<path d="M617.05,336.55L623.05,343.05L617.05,349.55L611.05,343.05Z" fill="#ff2020" fill-opacity="0.7"/>
<path d="M620.11,333.91L626.11,340.41L620.11,346.91L614.11,340.41Z" fill="#ff2020" fill-opacity="0.7"/>
<path d="M623.18,343.22L629.18,349.72L623.18,356.22L617.18,349.72Z" fill="#ff2020" fill-opacity="0.7"/>
<path d="M626.25,322.56L632.25,329.06L626.25,335.56L620.25,329.06Z" fill="#ff2020" fill-opacity="0.7"/>
<path d="M629.32,335.53L635.32,342.03L629.32,348.53L623.32,342.03Z" fill="#ff2020" fill-opacity="0.7"/>
<path d="M632.39,326.03L638.39,332.53L632.39,339.03L626.39,332.53Z" fill="#ff2020" fill-opacity="0.7"/>
<path d="M635.46,327.36L641.46,333.86L635.46,340.36L629.46,333.86Z" fill="#ff2020" fill-opacity="0.7"/>
<path d="M638.52,336.04L644.52,342.54L638.52,349.04L632.52,342.54Z" fill="#ff2020" fill-opacity="0.7"/>
<path d="M641.59,327.78L647.59,334.28L641.59,340.78L635.59,334.28Z" fill="#ff2020" fill-opacity="0.7"/>
<path d="M644.66,333.98L650.66,340.48L644.66,346.98L638.66,340.48Z" fill="#ff2020" fill-opacity="0.7"/>
<path d="M647.73,334.61L653.73,341.11L647.73,347.61L641.73,341.11Z" fill="#ff2020" fill-opacity="0.7"/>
<path d="M650.8,329.6L656.8,336.1L650.8,342.6L644.8,336.1Z" fill="#ff2020" fill-opacity="0.7"/>
<path d="M653.87,326.85L659.87,333.35L653.87,339.85L647.87,333.35Z" fill="#ff2020" fill-opacity="0.7"/>
<path d="M656.94,331.43L662.94,337.93L656.94,344.43L650.94,337.93Z" fill="#ff2020" fill-opacity="0.7"/>
<path d="M660,331.79L666,338.29L660,344.79L654,338.29Z" fill="#ff2020" fill-opacity="0.7"/>
<path d="M663.07,319.59L669.07,326.09L663.07,332.59L657.07,326.09Z" fill="#ff2020" fill-opacity="0.7"/>
<path d="M666.14,326.59L672.14,333.09L666.14,339.59L660.14,333.09Z" fill="#ff2020" fill-opacity="0.7"/>
<path d="M669.21,333.03L675.21,339.53L669.21,346.03L663.21,339.53Z" fill="#ff2020" fill-opacity="0.7"/>
<path d="M672.28,344.69L678.28,351.19L672.28,357.69L666.28,351.19Z" fill="#ff2020" fill-opacity="0.7"/>
<path d="M675.35,330.58L681.35,337.08L675.35,343.58L669.35,337.08Z" fill="#ff2020" fill-opacity="0.7"/>
<path d="M419.13,476.39L422.2,480.57L425.27,480.43L428.34,471.47L431.41,474.05L434.48,473.25L437.54,471.68L440.61,473.5L443.68,472L446.75,464.23L449.82,474.35L452.89,474.11L455.96,473.48L459.02,472.13L462.09,469.75L465.16,473.02L468.23,463.19L471.3,473.55L474.37,463.88L477.43,481.06L480.5,474.11L483.57,470.53L486.64,471.15L489.71,467.51L492.78,472.09L495.84,469.53L498.91,476L501.98,468.38L505.05,473.41L508.12,472.33L511.19,476.38L514.25,465.79L517.32,459.15L520.39,457.58L523.46,443.75L526.53,436.97L529.6,435.82L532.67,421.39L535.73,414.38L538.8,400.49L541.87,399L544.94,383.12L548.01,374.54L551.08,373.17L554.14,358.14L557.21,359.19L560.28,353.32L563.35,350.7L566.42,357.14L569.49,344.87L572.55,344.35L575.62,340.36L578.69,344.96L581.76,337.4L584.83,334.3L587.9,335.94L590.96,338.29L594.03,346.29L597.1,340.64L600.17,331.45L603.24,326.89L606.31,328.53L609.38,332.64L612.44,332.78L615.51,330.99L618.58,330.49L621.65,329.02L624.72,320.85L627.79,331.24L630.85,329.42L633.92,327.33L636.99,337.53L640.06,322.78L643.13,335.05L646.2,334.46L649.26,322.7L652.33,322.57L655.4,333.82L658.47,316.66L661.54,331.13L664.61,325.72L667.67,319.24L670.74,323.56L673.81,331.32L676.88,319.82" stroke="#2eaa2e" stroke-width="2.4" fill="none" stroke-linejoin="round" />
<path d="M419.13,470.09L425.13,480.59L413.13,480.59Z" fill="#55ff44" fill-opacity="0.75"/>
<path d="M422.2,474.27L428.2,484.77L416.2,484.77Z" fill="#55ff44" fill-opacity="0.75"/>
<path d="M425.27,474.13L431.27,484.63L419.27,484.63Z" fill="#55ff44" fill-opacity="0.75"/>
<path d="M428.34,465.17L434.34,475.67L422.34,475.67Z" fill="#55ff44" fill-opacity="0.75"/>
<path d="M431.41,467.75L437.41,478.25L425.41,478.25Z" fill="#55ff44" fill-opacity="0.75"/>
<path d="M434.48,466.95L440.48,477.45L428.48,477.45Z" fill="#55ff44" fill-opacity="0.75"/>
<path d="M437.54,465.38L443.54,475.88L431.54,475.88Z" fill="#55ff44" fill-opacity="0.75"/>
<path d="M440.61,467.2L446.61,477.7L434.61,477.7Z" fill="#55ff44" fill-opacity="0.75"/>
<path d="M443.68,465.7L449.68,476.2L437.68,476.2Z" fill="#55ff44" fill-opacity="0.75"/>
<path d="M446.75,457.93L452.75,468.43L440.75,468.43Z" fill="#55ff44" fill-opacity="0.75"/>
<path d="M449.82,468.05L455.82,478.55L443.82,478.55Z" fill="#55ff44" fill-opacity="0.75"/>
<path d="M452.89,467.81L458.89,478.31L446.89,478.31Z" fill="#55ff44" fill-opacity="0.75"/>
<path d="M455.96,467.18L461.96,477.68L449.96,477.68Z" fill="#55ff44" fill-opacity="0.75"/>
<path d="M459.02,465.83L465.02,476.33L453.02,476.33Z" fill="#55ff44" fill-opacity="0.75"/>
<path d="M462.09,463.45L468.09,473.95L456.09,473.95Z" fill="#55ff44" fill-opacity="0.75"/>
<path d="M465.16,466.72L471.16,477.22L459.16,477.22Z" fill="#55ff44" fill-opacity="0.75"/>
<path d="M468.23,456.89L474.23,467.39L462.23,467.39Z" fill="#55ff44" fill-opacity="0.75"/>
<path d="M471.3,467.25L477.3,477.75L465.3,477.75Z" fill="#55ff44" fill-opacity="0.75"/>
<path d="M474.37,457.58L480.37,468.08L468.37,468.08Z" fill="#55ff44" fill-opacity="0.75"/>
<path d="M477.43,474.76L483.43,485.26L471.43,485.26Z" fill="#55ff44" fill-opacity="0.75"/>
<path d="M480.5,467.81L486.5,478.31L474.5,478.31Z" fill="#55ff44" fill-opacity="0.75"/>
<path d="M483.57,464.23L489.57,474.73L477.57,474.73Z" fill="#55ff44" fill-opacity="0.75"/>
<path d="M486.64,464.85L492.64,475.35L480.64,475.35Z" fill="#55ff44" fill-opacity="0.75"/>
<path d="M489.71,461.21L495.71,471.71L483.71,471.71Z" fill="#55ff44" fill-opacity="0.75"/>
<path d="M492.78,465.79L498.78,476.29L486.78,476.29Z" fill="#55ff44" fill-opacity="0.75"/>
<path d="M495.84,463.23L501.84,473.73L489.84,473.73Z" fill="#55ff44" fill-opacity="0.75"/>
<path d="M498.91,469.7L504.91,480.2L492.91,480.2Z" fill="#55ff44" fill-opacity="0.75"/>
<path d="M501.98,462.08L507.98,472.58L495.98,472.58Z" fill="#55ff44" fill-opacity="0.75"/>
<path d="M505.05,467.11L511.05,477.61L499.05,477.61Z" fill="#55ff44" fill-opacity="0.75"/>
<path d="M508.12,466.03L514.12,476.53L502.12,476.53Z" fill="#55ff44" fill-opacity="0.75"/>
<path d="M511.19,470.08L517.19,480.58L505.19,480.58Z" fill="#55ff44" fill-opacity="0.75"/>
<path d="M514.25,459.49L520.25,469.99L508.25,469.99Z" fill="#55ff44" fill-opacity="0.75"/>
<path d="M517.32,452.85L523.32,463.35L511.32,463.35Z" fill="#55ff44" fill-opacity="0.75"/>
<path d="M520.39,451.28L526.39,461.78L514.39,461.78Z" fill="#55ff44" fill-opacity="0.75"/>
<path d="M523.46,437.45L529.46,447.95L517.46,447.95Z" fill="#55ff44" fill-opacity="0.75"/>
<path d="M526.53,430.67L532.53,441.17L520.53,441.17Z" fill="#55ff44" fill-opacity="0.75"/>
<path d="M529.6,429.52L535.6,440.02L523.6,440.02Z" fill="#55ff44" fill-opacity="0.75"/>
<path d="M532.67,415.09L538.67,425.59L526.67,425.59Z" fill="#55ff44" fill-opacity="0.75"/>
<path d="M535.73,408.08L541.73,418.58L529.73,418.58Z" fill="#55ff44" fill-opacity="0.75"/>
<path d="M538.8,394.19L544.8,404.69L532.8,404.69Z" fill="#55ff44" fill-opacity="0.75"/>
<path d="M541.87,392.7L547.87,403.2L535.87,403.2Z" fill="#55ff44" fill-opacity="0.75"/>
<path d="M544.94,376.82L550.94,387.32L538.94,387.32Z" fill="#55ff44" fill-opacity="0.75"/>
<path d="M548.01,368.24L554.01,378.74L542.01,378.74Z" fill="#55ff44" fill-opacity="0.75"/>
<path d="M551.08,366.87L557.08,377.37L545.08,377.37Z" fill="#55ff44" fill-opacity="0.75"/>
<path d="M554.14,351.84L560.14,362.34L548.14,362.34Z" fill="#55ff44" fill-opacity="0.75"/>
<path d="M557.21,352.89L563.21,363.39L551.21,363.39Z" fill="#55ff44" fill-opacity="0.75"/>
<path d="M560.28,347.02L566.28,357.52L554.28,357.52Z" fill="#55ff44" fill-opacity="0.75"/>
<path d="M563.35,344.4L569.35,354.9L557.35,354.9Z" fill="#55ff44" fill-opacity="0.75"/>
<path d="M566.42,350.84L572.42,361.34L560.42,361.34Z" fill="#55ff44" fill-opacity="0.75"/>
<path d="M569.49,338.57L575.49,349.07L563.49,349.07Z" fill="#55ff44" fill-opacity="0.75"/>
<path d="M572.55,338.05L578.55,348.55L566.55,348.55Z" fill="#55ff44" fill-opacity="0.75"/>
<path d="M575.62,334.06L581.62,344.56L569.62,344.56Z" fill="#55ff44" fill-opacity="0.75"/>
<path d="M578.69,338.66L584.69,349.16L572.69,349.16Z" fill="#55ff44" fill-opacity="0.75"/>
<path d="M581.76,331.1L587.76,341.6L575.76,341.6Z" fill="#55ff44" fill-opacity="0.75"/>
<path d="M584.83,328L590.83,338.5L578.83,338.5Z" fill="#55ff44" fill-opacity="0.75"/>
<path d="M587.9,329.64L593.9,340.14L581.9,340.14Z" fill="#55ff44" fill-opacity="0.75"/>
<path d="M590.96,331.99L596.96,342.49L584.96,342.49Z" fill="#55ff44" fill-opacity="0.75"/>
<path d="M594.03,339.99L600.03,350.49L588.03,350.49Z" fill="#55ff44" fill-opacity="0.75"/>
<path d="M597.1,334.34L603.1,344.84L591.1,344.84Z" fill="#55ff44" fill-opacity="0.75"/>
<path d="M600.17,325.15L606.17,335.65L594.17,335.65Z" fill="#55ff44" fill-opacity="0.75"/>
<path d="M603.24,320.59L609.24,331.09L597.24,331.09Z" fill="#55ff44" fill-opacity="0.75"/>
<path d="M606.31,322.23L612.31,332.73L600.31,332.73Z" fill="#55ff44" fill-opacity="0.75"/>
<path d="M609.38,326.34L615.38,336.84L603.38,336.84Z" fill="#55ff44" fill-opacity="0.75"/>
<path d="M612.44,326.48L618.44,336.98L606.44,336.98Z" fill="#55ff44" fill-opacity="0.75"/>
<path d="M615.51,324.69L621.51,335.19L609.51,335.19Z" fill="#55ff44" fill-opacity="0.75"/>
<path d="M618.58,324.19L624.58,334.69L612.58,334.69Z" fill="#55ff44" fill-opacity="0.75"/>
<path d="M621.65,322.72L627.65,333.22L615.65,333.22Z" fill="#55ff44" fill-opacity="0.75"/>
<path d="M624.72,314.55L630.72,325.05L618.72,325.05Z" fill="#55ff44" fill-opacity="0.75"/>
<path d="M627.79,324.94L633.79,335.44L621.79,335.44Z" fill="#55ff44" fill-opacity="0.75"/>
<path d="M630.85,323.12L636.85,333.62L624.85,333.62Z" fill="#55ff44" fill-opacity="0.75"/>
<path d="M633.92,321.03L639.92,331.53L627.92,331.53Z" fill="#55ff44" fill-opacity="0.75"/>
<path d="M636.99,331.23L642.99,341.73L630.99,341.73Z" fill="#55ff44" fill-opacity="0.75"/>
<path d="M640.06,316.48L646.06,326.98L634.06,326.98Z" fill="#55ff44" fill-opacity="0.75"/>
<path d="M643.13,328.75L649.13,339.25L637.13,339.25Z" fill="#55ff44" fill-opacity="0.75"/>
<path d="M646.2,328.16L652.2,338.66L640.2,338.66Z" fill="#55ff44" fill-opacity="0.75"/>
<path d="M649.26,316.4L655.26,326.9L643.26,326.9Z" fill="#55ff44" fill-opacity="0.75"/>
<path d="M652.33,316.27L658.33,326.77L646.33,326.77Z" fill="#55ff44" fill-opacity="0.75"/>
<path d="M655.4,327.52L661.4,338.02L649.4,338.02Z" fill="#55ff44" fill-opacity="0.75"/>
<path d="M658.47,310.36L664.47,320.86L652.47,320.86Z" fill="#55ff44" fill-opacity="0.75"/>
<path d="M661.54,324.83L667.54,335.33L655.54,335.33Z" fill="#55ff44" fill-opacity="0.75"/>
<path d="M664.61,319.42L670.61,329.92L658.61,329.92Z" fill="#55ff44" fill-opacity="0.75"/>
<path d="M667.67,312.94L673.67,323.44L661.67,323.44Z" fill="#55ff44" fill-opacity="0.75"/>
<path d="M670.74,317.26L676.74,327.76L664.74,327.76Z" fill="#55ff44" fill-opacity="0.75"/>
<path d="M673.81,325.02L679.81,335.52L667.81,335.52Z" fill="#55ff44" fill-opacity="0.75"/>
<path d="M676.88,313.52L682.88,324.02L670.88,324.02Z" fill="#55ff44" fill-opacity="0.75"/>
<path d="M417.6,470.75L434.65,469.29L451.69,473.08L468.74,473.96L485.79,466.38L502.83,473.08L519.88,452.38L536.93,408.78L553.97,385.31L571.02,352.07L588.07,336.61L605.11,331.66L622.16,323.78L639.21,331.66L656.25,319.12L673.3,323.49" stroke="#0000ff" stroke-width="2.8" fill="none" stroke-linejoin="round" />
<circle cx="417.6" cy="470.75" r="5.2" fill="#2020ff" fill-opacity="0.7"/>
<circle cx="434.65" cy="469.29" r="5.2" fill="#2020ff" fill-opacity="0.7"/>
<circle cx="451.69" cy="473.08" r="5.2" fill="#2020ff" fill-opacity="0.7"/>
<circle cx="468.74" cy="473.96" r="5.2" fill="#2020ff" fill-opacity="0.7"/>
<circle cx="485.79" cy="466.38" r="5.2" fill="#2020ff" fill-opacity="0.7"/>
<circle cx="502.83" cy="473.08" r="5.2" fill="#2020ff" fill-opacity="0.7"/>
<circle cx="519.88" cy="452.38" r="5.2" fill="#2020ff" fill-opacity="0.7"/>
<circle cx="536.93" cy="408.78" r="5.2" fill="#2020ff" fill-opacity="0.7"/>
<circle cx="553.97" cy="385.31" r="5.2" fill="#2020ff" fill-opacity="0.7"/>
<circle cx="571.02" cy="352.07" r="5.2" fill="#2020ff" fill-opacity="0.7"/>
<circle cx="588.07" cy="336.61" r="5.2" fill="#2020ff" fill-opacity="0.7"/>
<circle cx="605.11" cy="331.66" r="5.2" fill="#2020ff" fill-opacity="0.7"/>
<circle cx="622.16" cy="323.78" r="5.2" fill="#2020ff" fill-opacity="0.7"/>
<circle cx="639.21" cy="331.66" r="5.2" fill="#2020ff" fill-opacity="0.7"/>
<circle cx="656.25" cy="319.12" r="5.2" fill="#2020ff" fill-opacity="0.7"/>
<circle cx="673.3" cy="323.49" r="5.2" fill="#2020ff" fill-opacity="0.7"/>
</g>
<path d="M417.6,507.2v-6.2M417.6,288.5v6.2M468.74,507.2v-6.2M468.74,288.5v6.2M519.88,507.2v-6.2M519.88,288.5v6.2M571.02,507.2v-6.2M571.02,288.5v6.2M622.16,507.2v-6.2M622.16,288.5v6.2M673.3,507.2v-6.2M673.3,288.5v6.2M443.17,507.2v-3.4M443.17,288.5v3.4M494.31,507.2v-3.4M494.31,288.5v3.4M545.45,507.2v-3.4M545.45,288.5v3.4M596.59,507.2v-3.4M596.59,288.5v3.4M647.73,507.2v-3.4M647.73,288.5v3.4M417.6,507.2h6.2M673.3,507.2h-6.2M417.6,470.75h6.2M673.3,470.75h-6.2M417.6,434.3h6.2M673.3,434.3h-6.2M417.6,397.85h6.2M673.3,397.85h-6.2M417.6,361.4h6.2M673.3,361.4h-6.2M417.6,324.95h6.2M673.3,324.95h-6.2M417.6,288.5h6.2M673.3,288.5h-6.2M417.6,488.97h3.4M673.3,488.97h-3.4M417.6,452.52h3.4M673.3,452.52h-3.4M417.6,416.07h3.4M673.3,416.07h-3.4M417.6,379.62h3.4M673.3,379.62h-3.4M417.6,343.18h3.4M673.3,343.18h-3.4M417.6,306.73h3.4M673.3,306.73h-3.4" stroke="#000" stroke-width="1.4" fill="none"/>
<rect x="417.6" y="288.5" width="255.7" height="218.7" fill="none" stroke="#000" stroke-width="1.6"/>
<text transform="translate(368.78,513.2) scale(1.0000,1)" font-size="18.0" text-anchor="start" fill="#000" >-0.25</text>
<text transform="translate(374.81,476.75) scale(1.0000,1)" font-size="18.0" text-anchor="start" fill="#000" >0.00</text>
<text transform="translate(374.81,440.3) scale(1.0000,1)" font-size="18.0" text-anchor="start" fill="#000" >0.25</text>
<text transform="translate(374.81,403.85) scale(1.0000,1)" font-size="18.0" text-anchor="start" fill="#000" >0.50</text>
<text transform="translate(374.81,367.4) scale(1.0000,1)" font-size="18.0" text-anchor="start" fill="#000" >0.75</text>
<text transform="translate(374.81,330.95) scale(1.0000,1)" font-size="18.0" text-anchor="start" fill="#000" >1.00</text>
<text transform="translate(374.81,294.5) scale(1.0000,1)" font-size="18.0" text-anchor="start" fill="#000" >1.25</text>
<text transform="translate(409.46,528.6) scale(1.0000,1)" font-size="18.4" text-anchor="start" fill="#000" >-2</text>
<text transform="translate(460.6,528.6) scale(1.0000,1)" font-size="18.4" text-anchor="start" fill="#000" >-1</text>
<text transform="translate(514.77,528.6) scale(1.0000,1)" font-size="18.4" text-anchor="start" fill="#000" >0</text>
<text transform="translate(565.68,528.6) scale(1.0000,1)" font-size="18.4" text-anchor="start" fill="#000" >1</text>
<text transform="translate(617.05,528.6) scale(1.0000,1)" font-size="18.4" text-anchor="start" fill="#000" >2</text>
<text transform="translate(668.24,528.6) scale(1.0000,1)" font-size="18.4" text-anchor="start" fill="#000" >3</text>
<text transform="translate(492.93,559.2) scale(0.9995,1)" font-size="18.4" text-anchor="start" fill="#000" >Time delay, ps</text>
<text transform="translate(367.2,398.2) rotate(-90)" font-size="18.2" text-anchor="middle">ΔR/R</text>
<text transform="translate(430.45,311) scale(1.0425,1)" font-size="18.4" text-anchor="start" fill="#000" >(d)</text>
<text transform="translate(461.04,311) scale(1.0005,1)" font-size="18.4" text-anchor="start" fill="#000" >43 nm PVD-EP Cu film</text>
<path d="M426,326.6H464.9" stroke="#000" stroke-width="2.4"/>
<rect x="440.35" y="321.45" width="10.7" height="10.7" fill="#000" />
<path d="M426,348.7H464.9" stroke="#ff0000" stroke-width="2.4"/>
<path d="M445.7,342.8L451.6,349.2L445.7,355.6L439.8,349.2Z" fill="#ff2020" fill-opacity="0.7"/>
<path d="M426,371.5H464.9" stroke="#2eaa2e" stroke-width="2.4"/>
<path d="M445.5,365.08L451.1,375.28L439.9,375.28Z" fill="#55ff44" fill-opacity="0.75"/>
<path d="M426,393.8H464.9" stroke="#0000ff" stroke-width="2.4"/>
<circle cx="445.7" cy="393.8" r="5" fill="#2020ff" fill-opacity="0.7"/>
<text transform="translate(469.02,332.2) scale(1.0054,1)" font-size="16.7" text-anchor="start" fill="#000" >As-deposited</text>
<text transform="translate(469.02,354.4) scale(1.0054,1)" font-size="16.7" text-anchor="start" fill="#000" >At 300 °C</text>
<text transform="translate(469.02,376.8) scale(1.0054,1)" font-size="16.7" text-anchor="start" fill="#000" >At 400 °C</text>
<text transform="translate(469.02,399.3) scale(1.0054,1)" font-size="16.7" text-anchor="start" fill="#000" >At 500 °C</text>
</svg>
</body></html>
